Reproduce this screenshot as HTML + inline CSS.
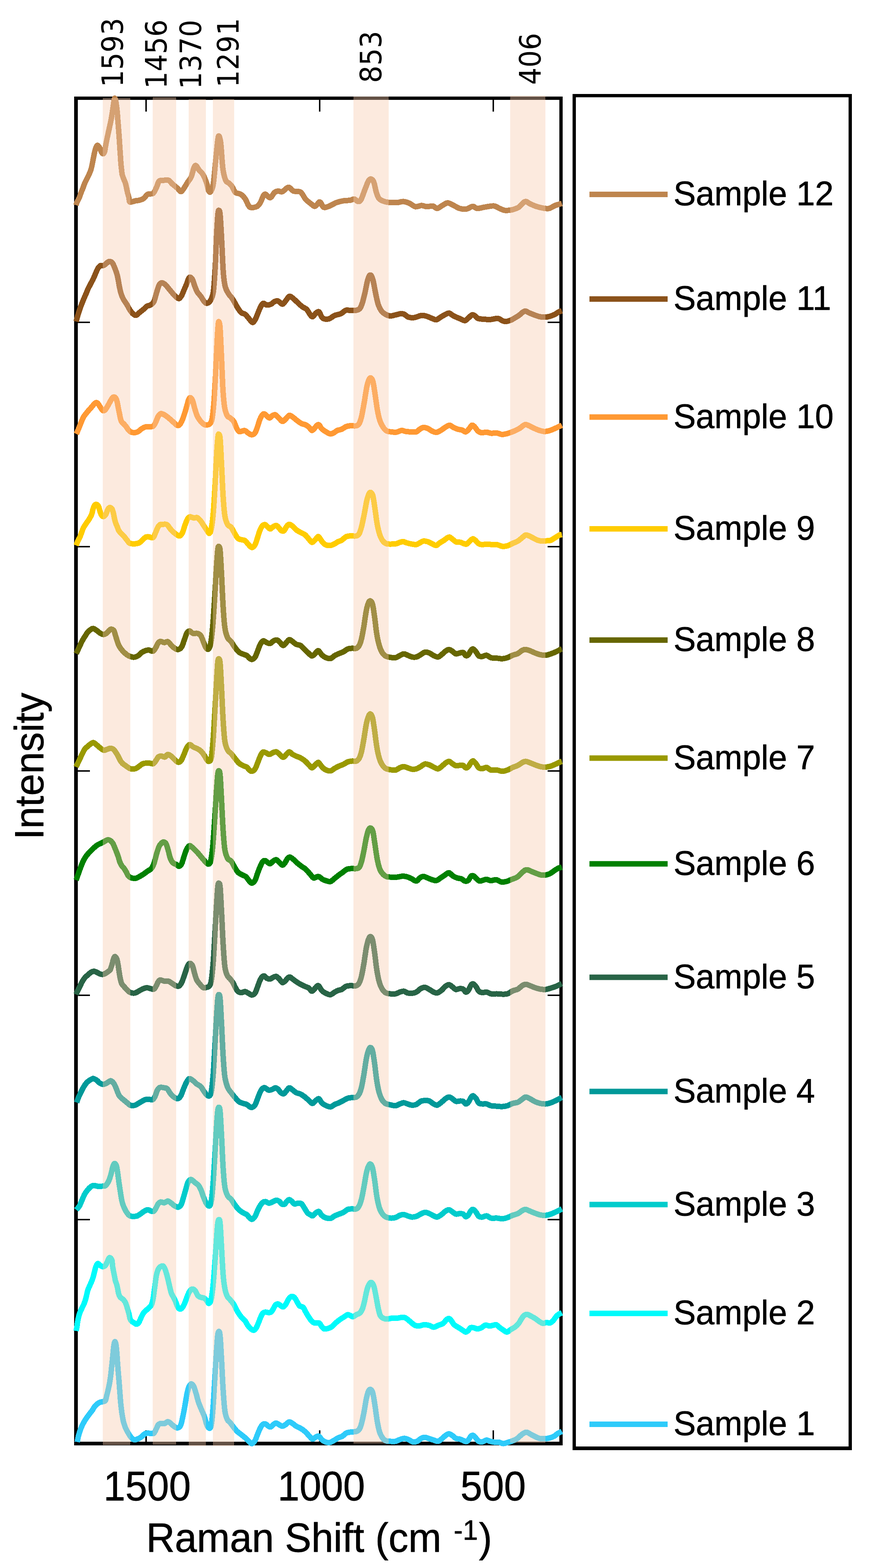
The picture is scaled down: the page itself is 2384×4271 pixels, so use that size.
<!DOCTYPE html>
<html lang="en"><head><meta charset="utf-8"><title>Raman spectra of samples 1-12</title>
<style>html,body{margin:0;padding:0;background:#fff;width:2384px;height:4271px;overflow:hidden;}svg{display:block;}text{font-family:"Liberation Sans",Arial,sans-serif;fill:#000;stroke:#000;stroke-width:0.9px;stroke-linejoin:round;}.pk{font-family:"DejaVu Sans","Liberation Sans",sans-serif;stroke:none;}</style></head><body>
<svg width="2384" height="4271" viewBox="0 0 2384 4271">
<rect width="2384" height="4271" fill="#fff"/>
<path fill="#000" fill-rule="evenodd" d="M202 263H1533V3937H202ZM212 272V3927H1524V272Z"/>
<path fill="#000" d="M396 271h4v33h-4zM396 3928h4v-32h-4zM869 271h4v33h-4zM869 3928h4v-32h-4zM1342 271h4v33h-4zM1342 3928h4v-32h-4zM211 876h34v4h-34zM1525 876h-33v4h33zM211 1487h34v4h-34zM1525 1487h-33v4h33zM211 2098h34v4h-34zM1525 2098h-33v4h33zM211 2709h34v4h-34zM1525 2709h-33v4h33zM211 3320h34v4h-34zM1525 3320h-33v4h33z"/>
<g fill="none" stroke-width="15" stroke-linejoin="round" stroke-linecap="butt" shape-rendering="crispEdges">
<path stroke="#2ECBFA" d="M210.6 3927.9C211 3925.8 211.8 3919.6 212.8 3915.4C213.7 3911.2 215 3907 216.3 3902.9C217.6 3898.7 219 3894.5 220.7 3890.3C222.3 3886.2 224.1 3882 226.3 3877.8C228.5 3873.7 231.1 3869.5 233.8 3865.3C236.6 3861.1 239.7 3857 242.8 3852.8C245.9 3848.6 249.9 3843.8 252.3 3840.3C254.8 3836.7 255.5 3834.2 257.6 3831.5C259.7 3828.8 262.6 3826 265.1 3824C267.6 3822 270.1 3820.6 272.6 3819.6C275.1 3818.6 277.7 3818.7 280.1 3818C282.5 3817.3 285.3 3817.8 287 3815.2C288.7 3812.7 289.3 3806.9 290.4 3802.7C291.5 3798.6 292.6 3794.4 293.6 3790.2C294.6 3786 295.5 3781.9 296.4 3777.7C297.3 3773.5 298.2 3769.3 298.9 3765.2C299.6 3761 300.2 3756.8 300.8 3752.7C301.4 3748.5 301.9 3744.3 302.4 3740.1C302.9 3736 303.2 3731.8 303.7 3727.6C304.1 3723.4 304.5 3721.4 305.2 3715.1C305.8 3708.8 306.8 3698.4 307.7 3690.1C308.5 3681.7 309.2 3671 310.2 3665C311.1 3659.1 312.2 3654.4 313.3 3654.4C314.3 3654.4 315.5 3659.1 316.4 3665C317.3 3671 318 3681.7 318.7 3690.1C319.3 3698.4 319.8 3706.8 320.4 3715.1C321.1 3723.4 321.7 3731.8 322.4 3740.1C323.1 3748.5 323.9 3756.8 324.6 3765.2C325.2 3773.5 325.8 3781.9 326.4 3790.2C327.1 3798.6 327.7 3807.9 328.3 3815.2C328.9 3822.5 329.5 3827.8 330.2 3834C330.9 3840.3 331.7 3846.5 332.7 3852.8C333.7 3859.1 334.8 3865.9 336.2 3871.6C337.6 3877.2 339.2 3882.2 340.8 3886.6C342.5 3891 344.1 3893.9 346.2 3897.9C348.4 3901.8 351.4 3906.9 353.7 3910.4C356.1 3913.8 358 3916.6 360.2 3918.5C362.5 3920.4 364.4 3921.8 367.1 3921.9C369.9 3921.9 373.6 3920.3 376.8 3918.8C380 3917.4 383.3 3915.4 386.2 3913.2C389.2 3911 391.5 3907.2 394.3 3905.6C397 3904 399.8 3903.9 402.8 3903.7C405.8 3903.6 409.5 3904.7 412.3 3904.7C415 3904.7 417.1 3905.7 419.3 3903.7C421.6 3901.7 423.5 3896.6 425.5 3892.8C427.5 3889.1 429 3883.6 431.2 3881C433.3 3878.4 435.5 3877.8 438.3 3877.2C441 3876.7 444.6 3878.5 447.7 3877.7C450.9 3876.9 454.3 3872.6 457.2 3872.5C460.1 3872.4 462.5 3875.2 465.2 3877.2C468 3879.3 470.7 3882.7 473.7 3884.8C476.7 3886.8 480.2 3889.8 483.2 3889.5C486.2 3889.3 489.3 3888 491.7 3883.4C494.1 3878.8 495.5 3870.4 497.4 3862.1C499.3 3853.8 501.2 3844 503 3833.7C504.9 3823.5 506.9 3809.7 508.7 3800.6C510.5 3791.6 512.3 3784.2 513.9 3779.3C515.6 3774.5 517.2 3772.9 518.7 3771.3C520.1 3769.7 520.9 3768.9 522.4 3769.9C524 3770.8 526.1 3772.6 528.1 3777C530.1 3781.3 532.1 3788.8 534.3 3795.9C536.4 3803 538.5 3812.4 540.9 3819.5C543.2 3826.6 545.8 3832.2 548.4 3838.5C551 3844.8 554 3850.3 556.5 3857.4C559 3864.5 561.2 3875.5 563.6 3881C565.9 3886.5 568.7 3890.5 570.7 3890.5C572.7 3890.5 574 3889.7 575.6 3881C577.2 3872.3 578.6 3858.2 580.1 3838.5C581.7 3818.8 583.4 3786.4 584.8 3762.8C586.3 3739.2 587.4 3717.1 588.8 3696.6C590.1 3676.1 591.6 3651.5 592.9 3639.8C594.2 3628.2 595.5 3626.2 596.7 3626.6C597.9 3627 598.8 3629 600 3642.2C601.2 3655.5 602.4 3682 603.8 3706.1C605.1 3730.1 606.5 3763.6 608 3786.4C609.5 3809.3 610.8 3829.8 612.7 3843.2C614.6 3856.6 616.9 3861.5 619.4 3866.8C621.8 3872.2 624.5 3871.8 627.4 3875.3C630.3 3878.9 633.7 3884.2 636.9 3888.1C640 3892 642.8 3895.6 646.3 3899C649.9 3902.4 654.2 3905.3 658.2 3908.4C662.1 3911.6 666.4 3914.7 670 3917.9C673.5 3921.1 676.7 3925 679.4 3927.4C682.2 3929.7 683.9 3932.7 686.5 3932.1C689.1 3931.5 692.5 3927.8 695 3923.6C697.6 3919.4 699.3 3912.7 701.7 3907C704 3901.3 706.9 3894 709.2 3889.5C711.6 3885 713.5 3881.9 715.8 3880.1C718.2 3878.3 720.8 3877.9 723.4 3878.7C726 3879.4 729.1 3883.5 731.4 3884.8C733.8 3886.1 735.2 3887.6 737.6 3886.7C740 3885.8 743.1 3881.3 745.6 3879.6C748.2 3877.9 750.1 3876.1 752.7 3876.3C755.3 3876.5 758.5 3879.6 761.2 3881C764 3882.4 766.4 3885 769.3 3884.8C772.2 3884.6 775.6 3882 778.7 3880.1C781.9 3878.1 785 3873.4 788.2 3873C791.3 3872.6 794.5 3875.7 797.6 3877.7C800.8 3879.7 803.6 3882.7 807.1 3884.8C810.7 3886.9 815 3888.1 818.9 3890.5C822.9 3892.8 827 3895.7 830.8 3899C834.5 3902.3 838.2 3906.9 841.6 3910.3C845 3913.8 848.2 3919 851.1 3919.8C854 3920.6 856.2 3916.4 859.1 3915.1C862 3913.7 865.6 3910.7 868.5 3911.8C871.4 3912.8 873.6 3918.6 876.6 3921.2C879.5 3923.8 882.5 3926 886 3927.4C889.6 3928.7 893.9 3929.9 897.8 3929.2C901.8 3928.6 905.7 3925.7 909.7 3923.6C913.6 3921.4 917.5 3918.5 921.5 3916.5C925.4 3914.5 929.7 3913.9 933.3 3911.8C936.8 3909.6 939.2 3905.5 942.8 3903.7C946.3 3901.9 949.8 3901.7 954.6 3900.9C959.3 3900.1 967 3900.3 971.1 3899C975.2 3897.6 976.8 3896.6 979.2 3892.8C981.5 3889.1 983.3 3883.8 985.3 3876.3C987.4 3868.8 989.3 3858.9 991.5 3847.9C993.6 3836.9 996 3819.9 998.1 3810.1C1000.2 3800.2 1002.2 3793 1004.2 3788.8C1006.3 3784.6 1008.4 3783.8 1010.4 3785C1012.3 3786.2 1014.2 3788.6 1016.1 3795.9C1017.9 3803.2 1019.8 3816.4 1021.7 3829C1023.7 3841.6 1025.8 3859.7 1027.9 3871.6C1029.9 3883.4 1031.7 3892.4 1034 3899.9C1036.4 3907.4 1039.1 3912.4 1042.1 3916.5C1045 3920.6 1048 3922.9 1051.5 3924.5C1055.1 3926.1 1059 3925.7 1063.3 3925.9C1067.7 3926.2 1073.2 3926.7 1077.5 3925.9C1081.9 3925.2 1085.4 3922.5 1089.3 3921.2C1093.3 3919.9 1097.2 3917.9 1101.2 3917.9C1105.1 3917.9 1109 3919.6 1113 3921.2C1116.9 3922.8 1120.9 3926.6 1124.8 3927.4C1128.8 3928.1 1133.1 3927.4 1136.6 3925.9C1140.2 3924.5 1142.7 3920.7 1146.1 3918.8C1149.5 3917 1153 3915.1 1157 3915.1C1160.9 3915.1 1165.6 3917.6 1169.7 3918.8C1173.8 3920.1 1177.6 3921.4 1181.6 3922.6C1185.5 3923.8 1189.8 3926.4 1193.4 3925.9C1196.9 3925.5 1199.4 3922.4 1202.8 3919.8C1206.2 3917.2 1210.3 3912.7 1213.7 3910.3C1217.1 3908 1220 3905.6 1223.2 3905.6C1226.3 3905.6 1229.5 3908.3 1232.6 3910.3C1235.8 3912.4 1238.8 3916.3 1242.1 3917.9C1245.4 3919.5 1249.2 3918.8 1252.5 3919.8C1255.8 3920.7 1259 3922.4 1261.9 3923.6C1264.9 3924.8 1267.9 3927.3 1270.5 3926.9C1273 3926.5 1275 3923.7 1277.1 3921.2C1279.2 3918.7 1281 3913.6 1283.2 3911.8C1285.4 3909.9 1288 3909.3 1290.3 3910.3C1292.7 3911.4 1295 3915.3 1297.4 3917.9C1299.8 3920.5 1301.7 3924.4 1304.5 3925.9C1307.3 3927.5 1310.4 3927.9 1314 3927.4C1317.5 3926.8 1322.2 3922.9 1325.8 3922.6C1329.3 3922.4 1331.7 3925 1335.2 3925.9C1338.8 3926.9 1343.1 3927.9 1347.1 3928.3C1351 3928.7 1354.9 3927.7 1358.9 3928.3C1362.8 3928.9 1366.8 3931.9 1370.7 3932.1C1374.6 3932.2 1378.2 3930.5 1382.5 3929.2C1386.9 3928 1392.4 3926.3 1396.7 3924.5C1401.1 3922.8 1404.6 3921.5 1408.5 3918.8C1412.5 3916.2 1416.8 3911.2 1420.4 3908.4C1423.9 3905.7 1427.2 3903.5 1429.8 3902.3C1432.4 3901.1 1433.2 3900.6 1436 3901.3C1438.7 3902.1 1442.7 3905.1 1446.4 3907C1450.1 3909 1454.3 3911.4 1458.2 3913.2C1462.1 3915 1465.7 3917 1470 3917.9C1474.3 3918.8 1479.5 3919.1 1484.2 3918.8C1488.9 3918.6 1494.1 3917.7 1498.4 3916.5C1502.7 3915.3 1506.7 3913.7 1510.2 3911.8C1513.8 3909.8 1516.2 3906.8 1519.7 3904.7C1523.1 3902.5 1529.1 3899.9 1531 3899"/>
<path stroke="#00FAFA" d="M207.5 3625.3C207.9 3623.2 209.1 3617 209.8 3612.8C210.4 3608.6 210.8 3604.5 211.5 3600.3C212.2 3596.1 213 3591.9 214 3587.8C215.1 3583.6 216.2 3579.4 217.8 3575.2C219.4 3571.1 221.6 3566.9 223.5 3562.7C225.5 3558.6 227.8 3554.4 229.4 3550.2C231.1 3546 232.4 3541.9 233.6 3537.7C234.7 3533.5 235.5 3529.3 236.6 3525.2C237.6 3521 238.4 3516.8 239.8 3512.7C241.3 3508.5 243.5 3504.3 245.3 3500.1C247.1 3496 249.1 3491.8 250.7 3487.6C252.3 3483.4 253.6 3479.3 254.8 3475.1C256 3470.9 256.8 3466.8 257.8 3462.6C258.9 3458.4 260.2 3453.2 261.3 3450.1C262.4 3446.9 263.4 3445.2 264.5 3443.8C265.5 3442.5 266.1 3441.4 267.6 3441.9C269.1 3442.5 271.4 3445.6 273.2 3446.9C275.1 3448.3 277.1 3449.7 278.9 3450.1C280.6 3450.5 282.4 3450.1 283.9 3449.4C285.3 3448.8 286.2 3448.5 287.6 3446.3C289.1 3444.1 291.2 3439.4 292.6 3436.3C294.1 3433.2 295.3 3429.3 296.4 3427.5C297.4 3425.8 297.9 3425.6 298.9 3425.7C299.9 3425.8 301.6 3426.8 302.6 3428.2C303.7 3429.5 304.4 3430.1 305.2 3433.8C305.9 3437.4 306.3 3445.1 307 3450.1C307.8 3455.1 308.7 3459.5 309.5 3463.8C310.4 3468.2 311.2 3472.2 312 3476.4C312.9 3480.5 313.5 3484.9 314.5 3488.9C315.6 3492.8 317.3 3496.4 318.3 3500.1C319.3 3503.9 320 3507.4 320.8 3511.4C321.6 3515.4 322.3 3520.4 323.3 3523.9C324.3 3527.5 325.3 3530.3 327.1 3532.7C328.8 3535.1 331.8 3536.2 333.9 3538.3C336.1 3540.4 338.5 3542.6 340.2 3545.2C341.9 3547.8 342.7 3550.5 344 3554C345.2 3557.4 346.5 3561.7 347.7 3565.9C349 3570 350.3 3574.5 351.5 3579C352.6 3583.5 353.3 3589.4 354.6 3592.8C355.8 3596.1 357 3597.1 359 3599C361 3600.9 364.3 3602.7 366.5 3604C368.7 3605.4 370.1 3607.3 372.1 3607C374 3606.7 376.1 3605.4 378.2 3602.3C380.3 3599.1 382.7 3592.4 384.8 3588.1C387 3583.8 388.8 3579.4 391 3576.3C393.2 3573.1 395.7 3571.4 398.1 3569.2C400.4 3567 402.8 3565.4 405.2 3563C407.5 3560.7 410.3 3559.1 412.3 3555C414.2 3550.9 415.4 3546.7 417 3538.5C418.6 3530.2 420.1 3516.4 421.7 3505.4C423.3 3494.3 424.7 3480.5 426.4 3472.3C428.2 3464 430.1 3459.5 432.1 3455.7C434.1 3451.9 436.2 3450.7 438.3 3449.6C440.3 3448.4 442.4 3447.2 444.4 3448.6C446.4 3450 448.2 3453.3 450.1 3458.1C452 3462.8 453.8 3469.5 455.8 3477C457.7 3484.5 460.1 3495.5 461.9 3503C463.7 3510.5 464.8 3516.8 466.6 3521.9C468.4 3527 470.8 3529.8 472.8 3533.7C474.8 3537.7 476.6 3541.2 478.5 3545.5C480.3 3549.9 482.2 3556.3 484.1 3559.7C486.1 3563.1 488.2 3565.5 490.3 3565.9C492.3 3566.3 494.3 3564.7 496.4 3562.1C498.6 3559.5 500.9 3555 503 3550.3C505.2 3545.5 507.1 3538.9 509.2 3533.7C511.2 3528.6 513.4 3523.1 515.3 3519.5C517.3 3516 519.1 3513.8 521 3512.4C522.9 3511.1 524.7 3510.7 526.7 3511.5C528.7 3512.3 530.8 3514.3 532.8 3517.2C534.9 3520.1 536.6 3526.2 539 3529C541.3 3531.8 544.1 3532.5 547 3533.7C549.9 3534.9 553.7 3534.5 556.5 3536.1C559.2 3537.7 561.4 3540.8 563.6 3543.2C565.7 3545.5 567.3 3550.7 569.2 3550.3C571.2 3549.9 573.2 3548.3 575 3540.8C576.8 3533.3 578.5 3520.7 580.1 3505.4C581.8 3490 583.4 3467.5 584.8 3448.6C586.3 3429.7 587.4 3410.8 588.8 3391.9C590.1 3372.9 591.6 3346.8 592.9 3335.1C594.2 3323.5 595.5 3321.9 596.7 3321.9C597.9 3321.9 598.8 3321.9 600 3335.1C601.2 3348.4 602.4 3378.5 603.8 3401.3C605.1 3424.2 606.5 3454.1 608 3472.3C609.5 3490.4 610.8 3500.2 612.7 3510.1C614.6 3519.9 616.9 3526.2 619.4 3531.4C621.8 3536.5 624.5 3537.3 627.4 3540.8C630.3 3544.4 634.1 3548.3 636.9 3552.6C639.6 3557 641.6 3562.5 644 3566.8C646.3 3571.2 648.7 3575.1 651.1 3578.7C653.4 3582.2 655.4 3585 658.2 3588.1C660.9 3591.3 664.8 3594 667.6 3597.6C670.4 3601.1 672.2 3605.8 674.7 3609.4C677.2 3612.9 680 3616.5 682.7 3618.8C685.5 3621.2 688.7 3624 691.3 3623.6C693.9 3623.2 696.1 3620 698.3 3616.5C700.6 3612.9 702.5 3607 704.5 3602.3C706.5 3597.6 708.3 3592.3 710.2 3588.1C712.1 3583.9 713.6 3579.6 715.8 3577.2C718 3574.9 720.8 3574.2 723.4 3573.9C726 3573.6 728.9 3575.3 731.4 3575.3C734 3575.3 736.4 3575.5 738.5 3573.9C740.7 3572.3 742.2 3569 744.2 3565.9C746.2 3562.7 748.2 3557.4 750.4 3555C752.6 3552.6 755.1 3551.5 757.5 3551.7C759.8 3551.9 762.2 3555.1 764.5 3556.4C766.9 3557.8 769.3 3560.4 771.6 3559.7C774 3559.1 776.5 3555.8 778.7 3552.6C780.9 3549.5 782.8 3544.1 784.9 3540.8C787 3537.5 789.4 3534.4 791.5 3532.8C793.6 3531.2 795.4 3530.6 797.6 3531.4C799.9 3532.2 802.6 3534.8 804.7 3537.5C806.9 3540.3 808.4 3544.6 810.4 3547.9C812.4 3551.2 814 3555.2 816.6 3557.4C819.2 3559.6 823.3 3558.4 826 3561.2C828.8 3563.9 830.5 3569.4 833.1 3573.9C835.7 3578.4 838.9 3583.9 841.6 3588.1C844.4 3592.3 847 3596.4 849.7 3599C852.3 3601.6 854.4 3602.9 857.7 3603.7C861 3604.5 866.3 3602.1 869.5 3603.7C872.6 3605.3 874.2 3610.5 876.6 3613.2C878.9 3615.9 880.5 3619 883.6 3619.8C886.8 3620.6 891.9 3619 895.5 3617.9C899 3616.8 901.8 3615.5 904.9 3613.2C908.1 3610.8 910.8 3606.9 914.4 3603.7C917.9 3600.6 922.3 3597.1 926.2 3594.3C930.1 3591.4 934.5 3588.9 938 3586.7C941.6 3584.5 944.7 3581.6 947.5 3581C950.2 3580.5 952.2 3582.4 954.6 3583.4C956.9 3584.3 958.9 3587.1 961.7 3586.7C964.4 3586.3 968 3582.7 971.1 3581C974.3 3579.3 977.8 3579 980.6 3576.3C983.3 3573.5 985.5 3570 987.7 3564.5C989.8 3558.9 991.4 3551.5 993.4 3543.2C995.3 3534.9 997.5 3522.3 999.5 3514.8C1001.5 3507.3 1003.5 3501.8 1005.6 3498.3C1007.8 3494.7 1010.1 3492.7 1012.3 3493.5C1014.4 3494.3 1016.4 3497.1 1018.4 3503C1020.4 3508.9 1022.3 3519.9 1024.1 3529C1025.9 3538.1 1027.5 3548.7 1029.3 3557.4C1031.1 3566 1032.8 3575.7 1035 3581C1037.1 3586.4 1038.9 3587.6 1042.1 3589.5C1045.2 3591.5 1049.5 3592.7 1053.9 3592.8C1058.2 3593 1063.3 3590.9 1068.1 3590.5C1072.8 3590.1 1077.5 3590.9 1082.3 3590.5C1087 3590.1 1092.5 3588.1 1096.4 3588.1C1100.4 3588.1 1102.4 3588.5 1105.9 3590.5C1109.4 3592.4 1113.8 3596.8 1117.7 3599.9C1121.7 3603.1 1125.6 3607.4 1129.5 3609.4C1133.5 3611.4 1137 3611.9 1141.4 3611.8C1145.7 3611.6 1150.8 3608.7 1155.5 3608.4C1160.3 3608.2 1165.4 3609.2 1169.7 3610.3C1174.1 3611.4 1177.6 3615.1 1181.6 3615.1C1185.5 3615.1 1189 3612.1 1193.4 3610.3C1197.7 3608.6 1203.9 3607.2 1207.6 3604.7C1211.3 3602.1 1213 3597.4 1215.6 3595.2C1218.2 3593 1220.8 3591 1223.2 3591.4C1225.5 3591.8 1227.4 3594.7 1229.8 3597.6C1232.2 3600.4 1234.4 3605.5 1237.4 3608.4C1240.4 3611.4 1244.1 3612.7 1247.8 3615.1C1251.5 3617.4 1256 3620.4 1259.6 3622.6C1263.1 3624.8 1266.3 3628.1 1269 3628.3C1271.8 3628.5 1274 3625.5 1276.1 3623.6C1278.3 3621.6 1279.4 3617.7 1281.8 3616.5C1284.2 3615.3 1287.2 3615.9 1290.3 3616.5C1293.5 3617 1297.2 3619.8 1300.7 3619.8C1304.3 3619.8 1308 3618.2 1311.6 3616.5C1315.2 3614.7 1318.9 3610.2 1322.5 3609.4C1326 3608.6 1329.6 3611.6 1332.9 3611.8C1336.2 3611.9 1339.2 3610.9 1342.3 3610.3C1345.5 3609.8 1348.8 3607.7 1351.8 3608.4C1354.8 3609.2 1357.2 3612.7 1360.3 3615.1C1363.5 3617.4 1367.2 3620.4 1370.7 3622.6C1374.2 3624.8 1377.6 3628.5 1381.1 3628.3C1384.7 3628.1 1388.2 3623.6 1392 3621.2C1395.8 3618.8 1400.3 3616.9 1403.8 3614.1C1407.4 3611.4 1410.5 3608.2 1413.3 3604.7C1416 3601.1 1418 3596.4 1420.4 3592.8C1422.7 3589.3 1424.9 3585.5 1427.5 3583.4C1430.1 3581.3 1432.8 3579.8 1436 3580.1C1439.1 3580.3 1442.7 3582.9 1446.4 3584.8C1450.1 3586.7 1454.3 3588.9 1458.2 3591.4C1462.1 3593.9 1466.5 3597.7 1470 3599.9C1473.6 3602.1 1476.3 3604.3 1479.5 3604.7C1482.6 3605.1 1485.8 3602.5 1488.9 3602.3C1492.1 3602.1 1495.4 3604.5 1498.4 3603.7C1501.4 3602.9 1504.1 3600.4 1506.9 3597.6C1509.7 3594.7 1512.4 3589.6 1514.9 3586.7C1517.5 3583.8 1519.4 3581.8 1522 3580.1C1524.7 3578.3 1529.5 3576.7 1531 3576.1"/>
<path stroke="#00CCCC" d="M207.8 3295.5C209.2 3293.7 213.9 3289 216.3 3285.2C218.6 3281.4 220.1 3276.7 221.9 3272.7C223.7 3268.6 225.3 3264.4 226.9 3260.8C228.6 3257.1 230 3253.9 231.9 3250.8C233.8 3247.6 236.1 3244.6 238.2 3242C240.3 3239.4 242.3 3237.1 244.4 3235.1C246.6 3233.1 249.1 3231.1 251.3 3230.1C253.5 3229.1 255.3 3228.9 257.6 3229.1C259.9 3229.3 262.6 3230.7 265.1 3231.1C267.6 3231.5 269.9 3231.4 272.6 3231.4C275.3 3231.3 279.1 3230.9 281.4 3230.7C283.7 3230.5 284.7 3231.1 286.4 3230.1C288 3229.2 289.6 3227.6 291.4 3225.1C293.2 3222.6 295.5 3218.6 297 3215.1C298.6 3211.5 299.6 3207.6 300.8 3203.8C301.9 3200.1 303 3196.3 303.9 3192.6C304.8 3188.8 305.5 3184.6 306.4 3181.3C307.3 3178 308.5 3174.5 309.5 3172.5C310.6 3170.5 311.4 3169 312.7 3169.4C313.9 3169.8 315.9 3172 317 3175C318.2 3178.1 318.8 3183 319.5 3187.6C320.3 3192.1 320.9 3197.3 321.7 3202.6C322.4 3207.9 323.1 3213.8 323.9 3219.5C324.7 3225.1 325.6 3230.8 326.4 3236.4C327.3 3241.9 328.1 3247.4 328.9 3252.6C329.8 3257.9 330.5 3263.1 331.4 3267.7C332.4 3272.3 333.3 3276.3 334.6 3280.2C335.8 3284 337.3 3287.3 338.9 3290.8C340.6 3294.4 342.6 3298.3 344.6 3301.5C346.6 3304.6 348.9 3307.7 350.8 3309.6C352.8 3311.5 354.3 3312.1 356.5 3312.7C358.7 3313.4 361.7 3313.4 364 3313.4C366.3 3313.4 368.5 3313 370.2 3312.7C372 3312.5 372.1 3312.9 374.4 3311.8C376.7 3310.6 380.7 3307.7 383.9 3305.6C387 3303.5 390.2 3300.7 393.3 3299C396.5 3297.3 399.6 3295.2 402.8 3295.2C405.9 3295.2 409.5 3298.4 412.3 3299C415 3299.6 417.1 3300.6 419.3 3299C421.6 3297.4 423.5 3292.9 425.5 3289.5C427.5 3286.1 429 3281.3 431.2 3278.7C433.3 3276.1 435.5 3274.3 438.3 3273.9C441 3273.5 444.6 3276.7 447.7 3276.3C450.9 3275.9 454 3271.4 457.2 3271.6C460.3 3271.7 463.5 3275 466.6 3277.2C469.8 3279.4 472.9 3283 476.1 3284.8C479.2 3286.6 482.6 3288.7 485.5 3288.1C488.5 3287.5 491.2 3285.4 493.6 3281C496 3276.7 497.7 3268.8 499.7 3262.1C501.8 3255.4 503.9 3247.5 505.9 3240.8C507.9 3234.1 509.7 3226.4 511.6 3221.9C513.4 3217.4 515.5 3215.3 517.2 3213.9C519 3212.4 519.8 3212.3 522 3213.4C524.2 3214.5 527.3 3217.9 530.5 3220.5C533.6 3223.1 537.9 3225.2 540.9 3229C543.9 3232.8 546.1 3237.7 548.4 3243.2C550.8 3248.7 552.7 3256.2 555.1 3262.1C557.4 3268 560 3274.9 562.6 3278.7C565.2 3282.4 568.5 3286 570.7 3284.8C572.8 3283.6 574 3280.9 575.6 3271.6C577.2 3262.3 578.6 3247.9 580.1 3229C581.7 3210.1 583.4 3181.7 584.8 3158.1C586.3 3134.4 587.4 3108.8 588.8 3087.1C590.1 3065.5 591.6 3039.8 592.9 3028C594.2 3016.2 595.5 3015.8 596.7 3016.2C597.9 3016.6 598.8 3017 600 3030.4C601.2 3043.8 602.4 3071.4 603.8 3096.6C605.1 3121.8 606.5 3158.9 608 3181.7C609.5 3204.6 610.6 3221.1 612.7 3233.7C614.7 3246.3 617.5 3251.9 620.3 3257.4C623.2 3262.9 626.6 3262.9 629.8 3266.8C632.9 3270.8 635.7 3276.3 639.2 3281C642.8 3285.7 647.1 3291.4 651.1 3295.2C655 3299 659.3 3301.5 662.9 3303.7C666.4 3305.9 669.6 3306.3 672.3 3308.4C675.1 3310.6 677.1 3314.4 679.4 3316.5C681.8 3318.6 683.9 3321.8 686.5 3321.2C689.1 3320.7 692.5 3317.1 695 3313.2C697.6 3309.2 699.3 3302.5 701.7 3297.6C704 3292.6 706.9 3287.1 709.2 3283.4C711.6 3279.7 713.5 3277.1 715.8 3275.3C718.2 3273.6 720.6 3272.7 723.4 3273C726.2 3273.3 729.7 3277.1 732.9 3277.2C736 3277.4 739 3275.3 742.3 3273.9C745.6 3272.6 749.6 3269.4 752.7 3269.2C755.9 3269 758.7 3270.8 761.2 3272.5C763.8 3274.2 765.5 3278.3 767.9 3279.6C770.2 3280.9 773.1 3281.4 775.4 3280.1C777.8 3278.7 779.9 3273.6 782 3271.6C784.2 3269.5 786 3267.6 788.2 3267.8C790.4 3267.9 792.9 3270.5 795.3 3272.5C797.6 3274.5 799.6 3278.8 802.4 3279.6C805.1 3280.4 808.7 3277.4 811.8 3277.2C815 3277.1 818.4 3276.4 821.3 3278.7C824.2 3280.9 826.6 3286.3 829.3 3290.5C832.1 3294.6 835.2 3300.7 837.8 3303.7C840.4 3306.7 842.6 3307.1 844.9 3308.4C847.3 3309.8 849.7 3312.4 852 3311.8C854.4 3311.1 856.4 3306.6 859.1 3304.7C861.9 3302.7 865.6 3299 868.5 3299.9C871.4 3300.9 873.6 3307.6 876.6 3310.3C879.5 3313.1 882.1 3315.1 886 3316.5C889.9 3317.9 895.9 3319.6 900.2 3318.8C904.5 3318.1 908.1 3313.7 912 3311.8C916 3309.8 919.9 3308.6 923.8 3307C927.8 3305.4 931.7 3304.4 935.7 3302.3C939.6 3300.2 943.5 3295.8 947.5 3294.3C951.4 3292.7 955.4 3293.1 959.3 3292.8C963.2 3292.6 967.8 3294.4 971.1 3292.8C974.4 3291.3 976.8 3288.1 979.2 3283.4C981.5 3278.7 983.3 3272.7 985.3 3264.5C987.4 3256.2 989.3 3245.2 991.5 3233.7C993.6 3222.3 996 3205.5 998.1 3195.9C1000.2 3186.3 1002.3 3180.2 1004.2 3176C1006.1 3171.9 1007.6 3169.9 1009.4 3170.8C1011.2 3171.8 1013.2 3174.4 1015.1 3181.7C1017 3189 1018.9 3202.2 1020.8 3214.8C1022.7 3227.4 1024.4 3245.2 1026.5 3257.4C1028.5 3269.6 1030.7 3280.2 1033.1 3288.1C1035.4 3296 1037.8 3300.3 1040.6 3304.7C1043.5 3309 1046.3 3311.9 1050.1 3314.1C1053.9 3316.3 1058.8 3317.5 1063.3 3317.9C1067.9 3318.3 1073.2 3317.7 1077.5 3316.5C1081.9 3315.2 1085.6 3311.7 1089.3 3310.3C1093.1 3309 1096.7 3308.2 1100.2 3308.4C1103.8 3308.7 1106.9 3310.6 1110.6 3311.8C1114.3 3312.9 1118.5 3314.8 1122.4 3315.1C1126.4 3315.3 1130.3 3314.5 1134.3 3313.2C1138.2 3311.8 1142.2 3308.8 1146.1 3307C1150 3305.2 1154 3302.5 1157.9 3302.3C1161.9 3302.1 1165.8 3304 1169.7 3305.6C1173.7 3307.2 1178 3310.2 1181.6 3311.8C1185.1 3313.3 1187.5 3315.6 1191 3315.1C1194.6 3314.5 1199.1 3311.1 1202.8 3308.4C1206.6 3305.8 1210.3 3301.2 1213.7 3299C1217.1 3296.8 1220 3294.9 1223.2 3295.2C1226.3 3295.5 1229.5 3298.9 1232.6 3300.9C1235.8 3302.8 1238.8 3306.2 1242.1 3307C1245.4 3307.8 1249.2 3305.6 1252.5 3305.6C1255.8 3305.6 1259.2 3305.6 1261.9 3307C1264.7 3308.4 1266.7 3313.7 1269 3314.1C1271.4 3314.5 1273.8 3312.1 1276.1 3309.4C1278.5 3306.6 1281 3300.1 1283.2 3297.6C1285.4 3295 1287 3293.5 1289.4 3294.3C1291.7 3295 1294.9 3299.1 1297.4 3302.3C1299.9 3305.4 1301.7 3311 1304.5 3313.2C1307.3 3315.3 1310.4 3315.3 1314 3315.1C1317.5 3314.8 1321.8 3311.3 1325.8 3311.8C1329.7 3312.2 1332.9 3316.9 1337.6 3317.9C1342.3 3318.9 1349 3317.6 1354.2 3317.9C1359.3 3318.2 1363.6 3320 1368.3 3319.8C1373.1 3319.6 1377.8 3318.1 1382.5 3316.5C1387.3 3314.9 1392 3312.1 1396.7 3310.3C1401.4 3308.5 1406.6 3307.7 1410.9 3305.6C1415.2 3303.5 1419.2 3299.5 1422.7 3297.6C1426.3 3295.7 1428.6 3294 1432.2 3294.3C1435.7 3294.5 1439.7 3297.3 1444 3299C1448.3 3300.7 1453.5 3302.9 1458.2 3304.7C1462.9 3306.4 1467.6 3308.4 1472.4 3309.4C1477.1 3310.3 1481.8 3310.7 1486.6 3310.3C1491.3 3309.9 1496 3308.6 1500.8 3307C1505.5 3305.4 1510.6 3302.8 1514.9 3300.9C1519.3 3298.9 1524.1 3296.5 1526.8 3295.2C1529.4 3293.9 1530.3 3293.4 1531 3293.1"/>
<path stroke="#009999" d="M209 3003.3C209.7 3001.3 211.3 2995.4 212.9 2991.4C214.5 2987.3 216.8 2983 218.8 2978.8C220.8 2974.7 222.5 2970.5 224.8 2966.3C227 2962.2 230 2957.1 232.3 2953.8C234.6 2950.5 236.7 2948.6 238.8 2946.6C240.9 2944.5 243 2943.1 245.1 2941.8C247.2 2940.5 249.8 2939.5 251.3 2938.8C252.9 2938.1 252.4 2937.2 254.5 2937.8C256.5 2938.4 261 2940.5 263.8 2942.5C266.7 2944.5 268.6 2948 271.4 2949.8C274.1 2951.6 277.4 2953.2 280.1 2953.6C282.8 2953.9 285.3 2952.8 287.6 2951.9C289.9 2951 291.6 2949.5 293.9 2948.2C296.2 2946.8 299 2943.7 301.4 2943.8C303.8 2943.9 306.3 2946.6 308.3 2948.8C310.3 2951 311.8 2954.1 313.3 2956.9C314.7 2959.8 315.8 2962.6 317 2965.7C318.3 2968.8 319.4 2972.5 320.8 2975.7C322.2 2978.9 323.4 2982.5 325.2 2985.1C327 2987.7 329.1 2989.3 331.4 2991.4C333.7 2993.4 336.4 2995.5 338.9 2997.6C341.5 2999.7 344 3001.8 346.5 3003.9C349 3006 351.5 3008.9 354 3010.1C356.5 3011.4 359 3011.4 361.5 3011.4C364 3011.4 366.8 3010.9 369 3010.1C371.1 3009.4 371.8 3008.6 374.4 3007C377.1 3005.5 381.3 3002.8 384.8 3000.9C388.4 2998.9 392.3 2996.3 395.7 2995.2C399.1 2994.1 401.8 2994.3 405.2 2994.3C408.5 2994.3 413.1 2996.6 416 2995.2C419 2993.8 420.5 2990.1 422.7 2985.7C424.8 2981.4 426.6 2973.1 428.8 2969.2C431 2965.3 432.7 2963.1 435.9 2962.1C439 2961.1 444.4 2962.4 447.7 2963C451 2963.7 453 2963.3 455.8 2965.9C458.5 2968.5 461.3 2974.9 464.3 2978.7C467.3 2982.4 470.4 2985.7 473.7 2988.1C477 2990.5 481 2993.4 484.1 2992.8C487.3 2992.3 490 2989.1 492.6 2984.8C495.2 2980.5 497.4 2972.6 499.7 2966.8C502.1 2961.1 504.5 2954.8 506.8 2950.3C509.2 2945.7 512 2941.4 513.9 2939.4C515.9 2937.4 516.5 2937.7 518.7 2938.5C520.8 2939.2 523.8 2941.8 526.7 2944.1C529.6 2946.5 532.8 2950 536.1 2952.6C539.5 2955.2 543.6 2956.2 547 2959.7C550.4 2963.3 553.6 2970 556.5 2973.9C559.4 2977.9 562.2 2981.6 564.5 2983.4C566.9 2985.2 568.8 2986.4 570.7 2984.8C572.5 2983.2 573.9 2983.2 575.6 2973.9C577.2 2964.6 579 2949.1 580.7 2929C582.3 2908.9 583.9 2877.8 585.3 2853.3C586.7 2828.9 587.8 2804.5 589.2 2782.4C590.5 2760.3 592.1 2733.1 593.3 2720.9C594.6 2708.7 595.6 2708.7 596.7 2709.1C597.8 2709.5 598.8 2709.5 600 2723.3C601.2 2737.1 602.4 2766.2 603.8 2791.9C605.1 2817.5 606.5 2853.3 608 2877C609.5 2900.6 610.6 2919.5 612.7 2933.7C614.7 2947.9 617.5 2955 620.3 2962.1C623.2 2969.2 626.6 2972 629.8 2976.3C632.9 2980.6 635.7 2984 639.2 2988.1C642.8 2992.2 647.1 2998 651.1 3000.9C655 3003.8 659.3 3004.3 662.9 3005.6C666.4 3006.9 669.6 3007 672.3 3008.4C675.1 3009.9 677.1 3012.8 679.4 3014.1C681.8 3015.5 683.9 3017.3 686.5 3016.5C689.1 3015.7 692.5 3013.3 695 3009.4C697.6 3005.4 699.3 2998.7 701.7 2992.8C704 2986.9 706.9 2978.7 709.2 2973.9C711.6 2969.2 713.7 2966.3 715.8 2964.5C718 2962.7 719.4 2962.3 722 2963C724.6 2963.8 728.3 2968.4 731.4 2969.2C734.6 2970 737.8 2968.8 740.9 2967.8C744.1 2966.8 747.6 2963.2 750.4 2963C753.1 2962.9 755.1 2964.8 757.5 2966.8C759.8 2968.9 762 2973.2 764.5 2975.3C767.1 2977.5 770 2980.2 772.6 2979.6C775.2 2979 777.6 2974.3 780.2 2971.6C782.8 2968.8 785.3 2963.4 788.2 2963C791.1 2962.7 794.5 2967 797.6 2969.2C800.8 2971.4 803.6 2974.5 807.1 2976.3C810.7 2978.1 815 2978.1 818.9 2980.1C822.9 2982 827 2985.2 830.8 2988.1C834.5 2991 838.2 2994.6 841.6 2997.6C845 3000.5 848.2 3005.4 851.1 3005.6C854 3005.8 856.2 3001.1 859.1 2999C862 2996.9 865.6 2992 868.5 2992.8C871.4 2993.6 873.6 3000.8 876.6 3003.7C879.5 3006.6 882.1 3008.4 886 3010.3C889.9 3012.2 895.9 3015.4 900.2 3015.1C904.5 3014.7 908.1 3010.3 912 3008.4C916 3006.6 919.9 3005.5 923.8 3003.7C927.8 3001.9 931.7 2999.6 935.7 2997.6C939.6 2995.5 943.5 2992.8 947.5 2991.4C951.4 2990.1 955.4 2990.1 959.3 2989.5C963.2 2989 967.8 2989.9 971.1 2988.1C974.4 2986.3 976.8 2983.4 979.2 2978.7C981.5 2973.9 983.3 2968.4 985.3 2959.7C987.4 2951.1 989.3 2939.2 991.5 2926.6C993.6 2914 996 2895.1 998.1 2884.1C1000.2 2873 1002.3 2865.6 1004.2 2860.4C1006.1 2855.3 1007.6 2852.9 1009.4 2853.3C1011.2 2853.7 1013.2 2855.3 1015.1 2862.8C1017 2870.3 1018.9 2884.9 1020.8 2898.3C1022.7 2911.7 1024.4 2930.2 1026.5 2943.2C1028.5 2956.2 1030.7 2967.6 1033.1 2976.3C1035.4 2985 1037.8 2990.3 1040.6 2995.2C1043.5 3000.1 1046.3 3003.2 1050.1 3005.6C1053.9 3008 1058.8 3008.4 1063.3 3009.4C1067.9 3010.4 1073.2 3012.1 1077.5 3011.8C1081.9 3011.4 1085.6 3008.4 1089.3 3007C1093.1 3005.7 1096.7 3003.7 1100.2 3003.7C1103.8 3003.7 1106.9 3005.9 1110.6 3007C1114.3 3008.1 1118.5 3010.1 1122.4 3010.3C1126.4 3010.6 1130.3 3010.2 1134.3 3008.4C1138.2 3006.7 1142.2 3001.7 1146.1 2999.9C1150 2998.1 1154 2997.7 1157.9 2997.6C1161.9 2997.4 1165.8 2997.4 1169.7 2999C1173.7 3000.6 1178 3005.1 1181.6 3007C1185.1 3008.9 1187.5 3011.1 1191 3010.3C1194.6 3009.5 1199.1 3005.2 1202.8 3002.3C1206.6 2999.4 1210.3 2995.2 1213.7 2992.8C1217.1 2990.5 1220 2988.1 1223.2 2988.1C1226.3 2988.1 1229.5 2990.9 1232.6 2992.8C1235.8 2994.8 1238.8 2998.9 1242.1 2999.9C1245.4 3001 1249.2 2999 1252.5 2999C1255.8 2999 1259.2 2998.6 1261.9 2999.9C1264.7 3001.3 1266.7 3006.6 1269 3007C1271.4 3007.4 1273.8 3005.2 1276.1 3002.3C1278.5 2999.4 1281 2992.4 1283.2 2989.5C1285.4 2986.6 1287 2984.2 1289.4 2984.8C1291.7 2985.4 1294.9 2989.5 1297.4 2992.8C1299.9 2996.1 1301.7 3002.3 1304.5 3004.7C1307.3 3007 1310.4 3006.6 1314 3007C1317.5 3007.4 1321.8 3006.2 1325.8 3007C1329.7 3007.8 1332.9 3010.7 1337.6 3011.8C1342.3 3012.8 1349 3012.8 1354.2 3013.2C1359.3 3013.6 1363.6 3014.4 1368.3 3014.1C1373.1 3013.9 1377.8 3013.2 1382.5 3011.8C1387.3 3010.3 1392 3007.2 1396.7 3005.6C1401.4 3004 1406.6 3004.2 1410.9 3002.3C1415.2 3000.4 1419.2 2996.6 1422.7 2994.3C1426.3 2991.9 1428.6 2988.3 1432.2 2988.1C1435.7 2987.9 1439.7 2990.7 1444 2992.8C1448.3 2995 1453.5 2998.7 1458.2 3000.9C1462.9 3003 1467.6 3004.6 1472.4 3005.6C1477.1 3006.6 1481.8 3007.3 1486.6 3007C1491.3 3006.7 1496 3005.3 1500.8 3003.7C1505.5 3002.1 1510.6 2999.6 1514.9 2997.6C1519.3 2995.5 1524.1 2992.7 1526.8 2991.4C1529.4 2990.1 1530.3 2990 1531 2989.7"/>
<path stroke="#286446" d="M207.3 2708.9C208 2707.3 209.8 2702.7 211.5 2698.9C213.3 2695.2 215.7 2690.6 217.8 2686.4C219.9 2682.2 221.6 2678.1 224 2673.9C226.5 2669.7 230.1 2664.3 232.6 2661.4C235 2658.4 236.3 2658.5 238.8 2656.4C241.3 2654.2 244.7 2650.4 247.6 2648.6C250.5 2646.8 253.4 2645.6 256.3 2645.7C259.3 2645.8 262.4 2647.9 265.1 2649.1C267.8 2650.3 270.1 2652.1 272.6 2653C275.1 2653.8 277.6 2654.4 280.1 2654.1C282.6 2653.8 285.1 2652.7 287.6 2651.3C290.1 2650 293.1 2647.7 295.1 2646.1C297.2 2644.5 298.8 2644.1 300.1 2642C301.5 2639.8 302.3 2636.2 303.3 2633.2C304.3 2630.2 305.3 2626.8 306.2 2623.8C307 2620.8 307.5 2617.7 308.3 2615C309.1 2612.4 309.8 2609.7 310.8 2608.2C311.7 2606.6 312.7 2604.9 313.9 2605.7C315.2 2606.4 317 2609.1 318.3 2612.5C319.5 2616 320.6 2621.9 321.4 2626.3C322.3 2630.7 322.6 2634.5 323.3 2638.8C324 2643.2 324.7 2648 325.4 2652.6C326.2 2657.2 326.9 2662 327.9 2666.4C328.9 2670.8 329.8 2675.4 331.4 2678.9C333.1 2682.3 335.5 2684.4 337.7 2687C339.9 2689.6 342.4 2692.2 344.6 2694.5C346.8 2696.8 348.9 2699.2 350.8 2700.8C352.8 2702.4 354.3 2703.2 356.5 2703.9C358.7 2704.7 361.7 2705.2 364 2705.2C366.3 2705.2 367.3 2705.2 370.2 2703.9C373.2 2702.7 378.1 2699.4 381.5 2697.6C385 2695.7 387.8 2694 391 2692.8C394.1 2691.7 397.3 2690.5 400.4 2690.5C403.6 2690.5 406.7 2692.2 409.9 2692.8C413 2693.5 416.7 2695.4 419.3 2694.3C421.9 2693.1 423.5 2689.1 425.5 2685.7C427.5 2682.4 429.3 2676.7 431.2 2673.9C433.1 2671.2 434.1 2669.4 436.8 2669.2C439.6 2669 444.1 2672 447.7 2672.5C451.3 2673.1 455 2671.5 458.6 2672.5C462.1 2673.5 465.7 2676.6 469 2678.7C472.3 2680.7 475.3 2683.6 478.5 2684.8C481.6 2686 485.2 2687.2 487.9 2685.7C490.7 2684.3 492.6 2681 495 2676.3C497.4 2671.6 499.7 2664.1 502.1 2657.4C504.5 2650.7 507.2 2641.2 509.2 2636.1C511.2 2631 512.3 2628.6 513.9 2626.6C515.5 2624.7 516.8 2623.5 518.7 2624.3C520.5 2625.1 522.8 2626.6 524.8 2631.4C526.8 2636.1 528.6 2646.3 530.5 2652.6C532.4 2658.9 533.8 2664.5 536.1 2669.2C538.5 2673.9 541.7 2677.5 544.7 2681C547.7 2684.6 551.1 2689.1 554.1 2690.5C557.1 2691.9 559.9 2690.3 562.6 2689.5C565.4 2688.7 568.5 2688.7 570.7 2685.7C572.8 2682.7 573.9 2681.8 575.6 2671.6C577.2 2661.3 579 2644.8 580.7 2624.3C582.3 2603.8 583.9 2573 585.3 2548.6C586.7 2524.2 587.8 2499.7 589.2 2477.7C590.5 2455.6 592.1 2428.2 593.3 2416.2C594.6 2404.2 595.6 2405.4 596.7 2405.8C597.8 2406.2 598.8 2405 600 2418.6C601.2 2432.1 602.4 2461.5 603.8 2487.1C605.1 2512.7 606.5 2547.8 608 2572.3C609.5 2596.7 610.8 2619.5 612.7 2633.7C614.6 2647.9 616.9 2651.9 619.4 2657.4C621.8 2662.9 624.9 2663.7 627.4 2666.8C629.9 2670 632.1 2672.3 634.5 2676.3C636.9 2680.2 639.2 2686.4 641.6 2690.5C644 2694.6 645.9 2698.7 648.7 2700.9C651.5 2703.1 655 2703.7 658.2 2703.7C661.3 2703.7 664.5 2700.6 667.6 2700.9C670.8 2701.2 673.9 2704 677.1 2705.6C680.2 2707.2 683.5 2710.5 686.5 2710.3C689.5 2710.2 692.5 2708.4 695 2704.7C697.6 2701 699.5 2693.6 701.7 2688.1C703.8 2682.6 705.8 2676.1 707.8 2671.6C709.9 2667.1 712 2663.4 713.9 2661.2C715.9 2658.9 717.5 2657.8 719.6 2658.3C721.8 2658.9 724 2663 726.7 2664.5C729.5 2665.9 733.3 2667.2 736.2 2666.8C739.1 2666.4 741.5 2663.3 744.2 2662.1C747 2660.9 749.9 2658.9 752.7 2659.7C755.6 2660.5 758.5 2664.1 761.2 2666.8C764 2669.6 766.8 2675.3 769.3 2676.3C771.8 2677.2 774 2674.5 776.4 2672.5C778.7 2670.5 781.3 2666.4 783.5 2664.5C785.7 2662.6 787.2 2660.8 789.6 2661.2C792 2661.5 794.7 2664.7 797.6 2666.8C800.6 2669 803.6 2671.6 807.1 2673.9C810.7 2676.3 815 2678.9 818.9 2681C822.9 2683.1 827 2685 830.8 2686.7C834.5 2688.4 838.5 2689.2 841.6 2691.4C844.8 2693.6 847 2699.7 849.7 2699.9C852.3 2700.2 855.3 2695.2 857.7 2692.8C860.1 2690.5 862.1 2686.9 863.9 2685.7C865.7 2684.6 866.4 2683.8 868.5 2685.7C870.6 2687.7 873.6 2694.4 876.6 2697.6C879.5 2700.7 882.1 2702.7 886 2704.7C889.9 2706.6 895.9 2709.8 900.2 2709.4C904.5 2709 908.5 2704.3 912 2702.3C915.6 2700.3 918.3 2698.7 921.5 2697.6C924.6 2696.4 927.4 2697 930.9 2695.2C934.5 2693.4 938.8 2688.4 942.8 2686.7C946.7 2685 949.8 2685.1 954.6 2684.8C959.3 2684.5 967 2686.2 971.1 2684.8C975.2 2683.4 976.8 2680.9 979.2 2676.3C981.5 2671.7 983.3 2666 985.3 2657.4C987.4 2648.7 989.3 2636.9 991.5 2624.3C993.6 2611.7 996 2592.7 998.1 2581.7C1000.2 2570.7 1002.3 2563.2 1004.2 2558.1C1006.1 2552.9 1007.6 2550.6 1009.4 2551C1011.2 2551.4 1013.2 2552.9 1015.1 2560.4C1017 2567.9 1018.9 2582.5 1020.8 2595.9C1022.7 2609.3 1024.4 2627.8 1026.5 2640.8C1028.5 2653.8 1030.7 2665.3 1033.1 2673.9C1035.4 2682.6 1037.8 2687.9 1040.6 2692.8C1043.5 2697.8 1046.3 2701.3 1050.1 2703.7C1053.9 2706.1 1058.8 2706.5 1063.3 2707C1067.9 2707.6 1073.2 2707.8 1077.5 2707C1081.9 2706.2 1085.6 2703.5 1089.3 2702.3C1093.1 2701.1 1096.7 2699.5 1100.2 2699.9C1103.8 2700.3 1106.9 2703.7 1110.6 2704.7C1114.3 2705.6 1118.5 2706 1122.4 2705.6C1126.4 2705.2 1130.3 2704.4 1134.3 2702.3C1138.2 2700.2 1142.2 2695 1146.1 2692.8C1150 2690.7 1154 2689.1 1157.9 2689.5C1161.9 2689.9 1165.8 2693.1 1169.7 2695.2C1173.7 2697.3 1178 2700.7 1181.6 2702.3C1185.1 2703.9 1187.5 2705.4 1191 2704.7C1194.6 2703.9 1199.1 2700.6 1202.8 2697.6C1206.6 2694.6 1210.3 2689.3 1213.7 2686.7C1217.1 2684.1 1220 2681.7 1223.2 2682C1226.3 2682.2 1229.5 2685.9 1232.6 2688.1C1235.8 2690.3 1238.8 2694.4 1242.1 2695.2C1245.4 2696 1249.2 2693 1252.5 2692.8C1255.8 2692.7 1259.2 2692.7 1261.9 2694.3C1264.7 2695.8 1266.7 2701.7 1269 2702.3C1271.4 2702.8 1273.8 2700.7 1276.1 2697.6C1278.5 2694.4 1281 2686.3 1283.2 2683.4C1285.4 2680.5 1287 2679.3 1289.4 2680.1C1291.7 2680.9 1294.9 2684.8 1297.4 2688.1C1299.9 2691.4 1301.7 2697.3 1304.5 2699.9C1307.3 2702.5 1310.4 2703.3 1314 2703.7C1317.5 2704.1 1321.8 2701.7 1325.8 2702.3C1329.7 2702.8 1332.9 2706.2 1337.6 2707C1342.3 2707.8 1349 2706.9 1354.2 2707C1359.3 2707.2 1363.6 2708 1368.3 2708C1373.1 2708 1377.8 2708.5 1382.5 2707C1387.3 2705.5 1392 2701.1 1396.7 2699C1401.4 2696.9 1406.6 2696.6 1410.9 2694.3C1415.2 2691.9 1419.2 2687 1422.7 2684.8C1426.3 2682.6 1428.6 2681 1432.2 2681C1435.7 2681 1439.7 2683.2 1444 2684.8C1448.3 2686.4 1453.5 2688.9 1458.2 2690.5C1462.9 2692 1467.6 2693.5 1472.4 2694.3C1477.1 2695 1481.8 2695.7 1486.6 2695.2C1491.3 2694.7 1496 2692.8 1500.8 2691.4C1505.5 2690 1510.6 2688.4 1514.9 2686.7C1519.3 2685 1524.1 2682.2 1526.8 2681C1529.4 2679.9 1530.3 2680 1531 2679.7"/>
<path stroke="#008000" d="M207.5 2397.3C208.4 2394.9 210.6 2388 212.5 2382.7C214.4 2377.3 216.5 2371.2 218.8 2365.1C221.1 2359.1 223.6 2352 226.3 2346.4C229 2340.7 231.9 2335.7 235.1 2331.3C238.2 2327 241.7 2323.6 245.1 2320.1C248.4 2316.5 251.7 2313.1 255.1 2310.1C258.4 2307 261.8 2304.1 265.1 2301.9C268.4 2299.7 272.2 2298.4 275.1 2296.9C278 2295.5 280.1 2294.5 282.6 2293.2C285.1 2291.8 288 2289.7 290.1 2288.8C292.2 2287.8 293.3 2287.3 295.1 2287.5C297 2287.7 299.3 2288.4 301.4 2290C303.5 2291.7 305.8 2294.4 307.7 2297.5C309.5 2300.7 311 2304.8 312.7 2308.8C314.3 2312.8 316 2316.9 317.7 2321.3C319.3 2325.7 321.2 2330.7 322.7 2335.1C324.1 2339.5 325 2343.9 326.4 2347.6C327.9 2351.4 329.6 2354.7 331.4 2357.6C333.3 2360.5 335.6 2362.2 337.7 2365.1C339.8 2368.1 342.1 2371.8 344 2375.1C345.8 2378.5 347.1 2382.7 349 2385.2C350.8 2387.7 353.1 2389 355.2 2390.2C357.3 2391.3 359.2 2391.6 361.5 2392C363.8 2392.5 366 2393.3 369 2392.7C371.9 2392 375.5 2390.1 379.2 2388.1C382.8 2386.2 387 2383.6 391 2381C394.9 2378.4 399.2 2375 402.8 2372.5C406.3 2370 409.5 2369.2 412.3 2365.9C415 2362.6 417 2359.2 419.3 2352.6C421.7 2346.1 424.1 2334.5 426.4 2326.6C428.8 2318.8 431.2 2310.5 433.5 2305.4C435.9 2300.2 438.5 2297.9 440.6 2295.9C442.8 2293.9 444.3 2293.1 446.3 2293.5C448.3 2293.9 450.4 2294.3 452.4 2298.3C454.5 2302.2 456.6 2310.5 458.6 2317.2C460.6 2323.9 462.1 2332.9 464.3 2338.5C466.4 2344 468.6 2347.5 471.4 2350.3C474.1 2353 478.1 2353.4 480.8 2355C483.6 2356.6 485.5 2360.1 487.9 2359.7C490.3 2359.3 492.8 2357 495 2352.6C497.2 2348.3 499 2340 501.2 2333.7C503.3 2327.4 505.6 2319.5 507.8 2314.8C509.9 2310.1 512.1 2307.2 513.9 2305.4C515.7 2303.5 516.3 2302.8 518.7 2303.9C521 2305.1 524.6 2309.1 528.1 2312.4C531.7 2315.8 536 2319.9 539.9 2324.3C543.9 2328.6 548.2 2334.4 551.8 2338.5C555.3 2342.6 558.5 2346.3 561.2 2348.9C564 2351.4 566.2 2354.1 568.3 2353.6C570.4 2353 572.1 2353.6 574 2345.5C575.9 2337.5 577.8 2323.9 579.6 2305.4C581.4 2286.8 583.2 2258.1 584.8 2234.4C586.4 2210.8 587.8 2184.4 589.2 2163.5C590.6 2142.6 592.1 2119.7 593.3 2109.1C594.6 2098.5 595.6 2098.9 596.7 2099.7C597.8 2100.4 598.8 2100 600 2113.8C601.2 2127.6 602.4 2157.6 603.8 2182.4C605.1 2207.2 606.5 2240.7 608 2262.8C609.5 2284.9 610.6 2302.2 612.7 2314.8C614.7 2327.4 617.5 2333.3 620.3 2338.5C623.2 2343.6 626.6 2341.6 629.8 2345.5C632.9 2349.5 636.1 2357 639.2 2362.1C642.4 2367.2 645.1 2372.7 648.7 2376.3C652.2 2379.8 657 2381.4 660.5 2383.4C664.1 2385.4 666.8 2385.4 670 2388.1C673.1 2390.9 676.7 2397 679.4 2399.9C682.2 2402.8 683.9 2406 686.5 2405.6C689.1 2405.2 692.5 2402.1 695 2397.6C697.6 2393.1 699.3 2385 701.7 2378.7C704 2372.3 706.9 2365 709.2 2359.7C711.6 2354.5 713.7 2349.6 715.8 2347C718 2344.4 719.8 2343.8 722 2344.1C724.2 2344.4 726.7 2347.4 729.1 2348.9C731.4 2350.3 733.7 2353.2 736.2 2352.6C738.7 2352.1 741.5 2347.4 744.2 2345.5C747 2343.7 749.9 2341.2 752.7 2341.8C755.6 2342.3 758.5 2346.4 761.2 2348.9C764 2351.3 766.8 2356.2 769.3 2356.4C771.8 2356.7 774 2353.3 776.4 2350.3C778.7 2347.3 781.3 2341.1 783.5 2338.5C785.7 2335.9 787.2 2334.5 789.6 2334.7C792 2334.8 794.3 2336.8 797.6 2339.4C801 2342 805.5 2346.9 809.5 2350.3C813.4 2353.7 817.4 2356.8 821.3 2359.7C825.2 2362.7 829.2 2364.2 833.1 2367.8C837.1 2371.3 841.4 2377.1 844.9 2381C848.5 2385 851.2 2390.2 854.4 2391.4C857.5 2392.6 861.3 2388.7 863.9 2388.1C866.4 2387.6 866.9 2386.9 869.5 2388.1C872 2389.3 875.8 2393.4 878.9 2395.2C882.1 2397 884.8 2398 888.4 2399C891.9 2400 896.6 2402.1 900.2 2401.3C903.7 2400.6 906.1 2397 909.7 2394.3C913.2 2391.5 917.5 2387.8 921.5 2384.8C925.4 2381.8 929.4 2379.1 933.3 2376.3C937.2 2373.4 941.2 2369.5 945.1 2367.8C949.1 2366 952.6 2366.2 956.9 2365.9C961.3 2365.6 967.4 2366.5 971.1 2365.9C974.8 2365.3 976.8 2365.5 979.2 2362.1C981.5 2358.7 983.3 2353 985.3 2345.5C987.4 2338.1 989.3 2327.8 991.5 2317.2C993.6 2306.5 996 2291.2 998.1 2281.7C1000.2 2272.3 1002.2 2264.8 1004.2 2260.4C1006.3 2256.1 1008.4 2254.9 1010.4 2255.7C1012.3 2256.5 1014.2 2257.7 1016.1 2265.2C1017.9 2272.6 1019.8 2288 1021.7 2300.6C1023.7 2313.2 1025.7 2329.6 1027.9 2340.8C1030.1 2352 1032.4 2361.1 1035 2367.8C1037.6 2374.5 1040.3 2377.6 1043.5 2381C1046.6 2384.4 1049.8 2386.8 1053.9 2388.1C1058 2389.4 1063.3 2388.9 1068.1 2389.1C1072.8 2389.2 1077.5 2389.4 1082.3 2389.1C1087 2388.7 1092.1 2386.8 1096.4 2386.7C1100.8 2386.5 1104.3 2387.1 1108.3 2388.1C1112.2 2389.1 1115.7 2390.9 1120.1 2392.8C1124.4 2394.8 1130.3 2400.2 1134.3 2399.9C1138.2 2399.7 1140.6 2393.5 1143.7 2391.4C1146.9 2389.3 1149.6 2387.2 1153.2 2387.2C1156.7 2387.2 1161.1 2389.9 1165 2391.4C1168.9 2392.9 1172.9 2395 1176.8 2396.1C1180.8 2397.3 1184.7 2399.3 1188.7 2398.5C1192.6 2397.7 1196.5 2393.9 1200.5 2391.4C1204.4 2388.9 1208.5 2385.7 1212.3 2383.4C1216.1 2381 1219.6 2376.8 1223.2 2377.2C1226.7 2377.6 1229.9 2383.4 1233.6 2385.7C1237.3 2388.1 1241.5 2390.1 1245.4 2391.4C1249.3 2392.8 1253.7 2392.4 1257.2 2393.8C1260.8 2395.2 1263.5 2399.3 1266.7 2399.9C1269.8 2400.6 1273.4 2399.8 1276.1 2397.6C1278.9 2395.4 1280.9 2388.7 1283.2 2386.7C1285.6 2384.7 1288 2384.7 1290.3 2385.7C1292.7 2386.8 1294.7 2390.5 1297.4 2392.8C1300.2 2395.2 1303.7 2399.1 1306.9 2399.9C1310 2400.7 1313.2 2398.4 1316.3 2397.6C1319.5 2396.8 1322.2 2395 1325.8 2395.2C1329.3 2395.4 1333.3 2398.8 1337.6 2399C1341.9 2399.1 1347.1 2395.6 1351.8 2396.1C1356.5 2396.7 1361.3 2401.5 1366 2402.3C1370.7 2403.1 1375.4 2402.1 1380.2 2400.9C1384.9 2399.7 1389.6 2397.1 1394.4 2395.2C1399.1 2393.3 1404.2 2392.3 1408.5 2389.5C1412.9 2386.8 1416.8 2381.8 1420.4 2378.7C1423.9 2375.5 1427.1 2372.2 1429.8 2370.6C1432.6 2369 1433.8 2368.6 1436.9 2369.2C1440.1 2369.7 1444.4 2372.2 1448.7 2373.9C1453.1 2375.7 1458.6 2378 1462.9 2379.6C1467.3 2381.2 1470.8 2382.7 1474.7 2383.4C1478.7 2384 1482.6 2384 1486.6 2383.4C1490.5 2382.7 1494.4 2381.6 1498.4 2379.6C1502.3 2377.6 1506.3 2374.1 1510.2 2371.6C1514.1 2369 1518.6 2366 1522 2364.5C1525.5 2362.9 1529.5 2362.6 1531 2362.2"/>
<path stroke="#999900" d="M207.3 2089.1C208.1 2087.2 210.6 2081.6 212.5 2077.6C214.4 2073.6 216.6 2069.3 218.5 2065.1C220.5 2060.9 222.3 2056.8 224.4 2052.6C226.5 2048.4 228.9 2043.3 231.3 2040.1C233.7 2036.8 236.5 2035.2 238.8 2033.2C241.1 2031.1 242.5 2029.5 245.1 2027.8C247.7 2026.1 251.3 2022.5 254.5 2022.8C257.6 2023.1 260.8 2027.1 263.8 2029.4C266.9 2031.8 269.5 2034.6 272.6 2036.9C275.7 2039.3 279.7 2042.7 282.6 2043.4C285.5 2044.2 287.2 2042.6 290.1 2041.7C293.1 2040.8 297.4 2038.6 300.1 2038.2C302.9 2037.8 304.6 2038.7 306.4 2039.4C308.2 2040.2 309 2040.6 310.8 2042.6C312.6 2044.6 315.1 2048.2 317 2051.3C319 2054.5 320.9 2058 322.7 2061.3C324.5 2064.7 325.8 2068.3 327.7 2071.4C329.6 2074.4 331.6 2077.2 333.9 2079.5C336.2 2081.8 338.8 2083.3 341.5 2085.1C344.1 2087 347.3 2089.3 349.6 2090.8C351.9 2092.2 353 2093.3 355.2 2093.9C357.4 2094.5 360.2 2094.6 362.7 2094.5C365.2 2094.4 367.7 2094.3 370.2 2093.3C372.8 2092.2 375.3 2090.2 378.2 2088.1C381.1 2086.1 384.5 2082.6 387.7 2081C390.8 2079.4 393.8 2079 397.1 2078.7C400.4 2078.3 404.1 2078.4 407.5 2078.7C411 2078.9 414.9 2081.4 417.9 2080.1C420.9 2078.7 423.1 2073.8 425.5 2070.6C427.9 2067.5 429.6 2063 432.1 2061.2C434.6 2059.3 437.8 2059.6 440.6 2059.7C443.5 2059.9 446.4 2062.9 449.1 2062.1C451.9 2061.3 454.3 2055.4 457.2 2055C460.1 2054.6 463.5 2057.4 466.6 2059.7C469.8 2062.1 472.9 2066.4 476.1 2069.2C479.2 2072 482.6 2075.9 485.5 2076.3C488.5 2076.7 491 2075.1 493.6 2071.6C496.2 2068 498.6 2060.9 501.2 2055C503.8 2049.1 506.5 2040.6 509.2 2036.1C511.9 2031.6 514.3 2028.3 517.2 2028.1C520.1 2027.8 523.3 2032.8 526.7 2034.7C530.1 2036.6 534.2 2037.6 537.6 2039.4C541 2041.2 543.9 2042.6 547 2045.5C550.2 2048.5 553.7 2053.4 556.5 2057.4C559.2 2061.3 561.4 2066.4 563.6 2069.2C565.7 2072 567.2 2074.7 569.2 2073.9C571.2 2073.1 573.7 2074.3 575.6 2064.5C577.5 2054.6 579 2035.7 580.7 2014.8C582.3 1993.9 583.8 1964.4 585.3 1939.2C586.8 1913.9 588.3 1886 589.6 1863.5C590.9 1841 592.2 1815.8 593.3 1804.4C594.5 1793 595.6 1794.1 596.7 1794.9C597.8 1795.7 598.8 1795.3 600 1809.1C601.2 1822.9 602.4 1852.1 603.8 1877.7C605.1 1903.3 606.5 1939.2 608 1962.8C609.5 1986.4 610.6 2006.1 612.7 2019.5C614.7 2032.9 617.5 2037.7 620.3 2043.2C623.2 2048.7 626.6 2049.1 629.8 2052.6C632.9 2056.2 635.7 2060.1 639.2 2064.5C642.8 2068.8 647.1 2075.1 651.1 2078.7C655 2082.2 659.3 2083.9 662.9 2085.7C666.4 2087.6 669.6 2087.6 672.3 2089.5C675.1 2091.5 677.1 2095.7 679.4 2097.6C681.8 2099.5 683.9 2101.4 686.5 2100.9C689.1 2100.3 692.5 2098 695 2094.3C697.6 2090.6 699.3 2084.4 701.7 2078.7C704 2072.9 706.9 2064.7 709.2 2059.7C711.6 2054.8 713.3 2050.4 715.8 2048.9C718.4 2047.3 721.4 2049.3 724.4 2050.3C727.3 2051.3 730.7 2055 733.8 2055C737 2055 740.1 2051.5 743.3 2050.3C746.4 2049.1 749.6 2047.1 752.7 2047.9C755.9 2048.7 759 2052.5 762.2 2055C765.3 2057.5 768.6 2063 771.6 2063C774.6 2063 777.4 2057.5 780.2 2055C782.9 2052.5 785.3 2047.9 788.2 2047.9C791.1 2047.9 794.5 2053 797.6 2055C800.8 2057 803.6 2058.2 807.1 2059.7C810.7 2061.3 815 2062.3 818.9 2064.5C822.9 2066.6 827 2069.4 830.8 2072.5C834.5 2075.7 838.5 2080.2 841.6 2083.4C844.8 2086.5 847 2091.2 849.7 2091.4C852.3 2091.7 855.3 2086.9 857.7 2084.8C860.1 2082.7 862.1 2079.9 863.9 2078.7C865.7 2077.4 866.4 2075.7 868.5 2077.2C870.6 2078.8 873.6 2085 876.6 2088.1C879.5 2091.3 882.1 2094.2 886 2096.1C889.9 2098.1 895.9 2100.5 900.2 2099.9C904.5 2099.4 908.1 2095 912 2092.8C916 2090.6 919.9 2088.5 923.8 2086.7C927.8 2084.9 931.7 2083.9 935.7 2082C939.6 2080.1 943.5 2076.8 947.5 2075.3C951.4 2073.8 955.4 2073.4 959.3 2073C963.2 2072.6 967.8 2074.4 971.1 2073C974.4 2071.6 976.8 2069 979.2 2064.5C981.5 2059.9 983.3 2054.2 985.3 2045.5C987.4 2036.9 989.3 2024.7 991.5 2012.4C993.6 2000.2 996 1982.5 998.1 1972.3C1000.2 1962 1002.3 1955.5 1004.2 1951C1006.1 1946.4 1007.6 1944 1009.4 1944.8C1011.2 1945.6 1013.2 1948 1015.1 1955.7C1017 1963.4 1018.9 1978.2 1020.8 1991.2C1022.7 2004.2 1024.4 2021.5 1026.5 2033.7C1028.5 2045.9 1030.7 2056.4 1033.1 2064.5C1035.4 2072.5 1037.8 2077.2 1040.6 2082C1043.5 2086.7 1046.3 2090.4 1050.1 2092.8C1053.9 2095.3 1058.8 2095.8 1063.3 2096.6C1067.9 2097.4 1073.2 2098.4 1077.5 2097.6C1081.9 2096.7 1085.6 2093 1089.3 2091.4C1093.1 2089.8 1096.7 2088.1 1100.2 2088.1C1103.8 2088.1 1106.9 2090.2 1110.6 2091.4C1114.3 2092.6 1118.5 2094.7 1122.4 2095.2C1126.4 2095.7 1130.3 2095.4 1134.3 2094.3C1138.2 2093.1 1142.2 2090.3 1146.1 2088.1C1150 2085.9 1154 2081.8 1157.9 2081C1161.9 2080.2 1165.8 2082 1169.7 2083.4C1173.7 2084.8 1177.6 2087.7 1181.6 2089.5C1185.5 2091.3 1189.8 2094.5 1193.4 2094.3C1196.9 2094 1199.4 2090.7 1202.8 2088.1C1206.2 2085.5 1210.3 2081 1213.7 2078.7C1217.1 2076.3 1220 2073.7 1223.2 2073.9C1226.3 2074.2 1229.5 2078.1 1232.6 2080.1C1235.8 2082 1238.8 2085 1242.1 2085.7C1245.4 2086.5 1249.2 2085 1252.5 2084.8C1255.8 2084.6 1259.2 2083.7 1261.9 2084.8C1264.7 2085.9 1266.7 2090.9 1269 2091.4C1271.4 2092 1273.8 2090.5 1276.1 2088.1C1278.5 2085.7 1281 2079.8 1283.2 2077.2C1285.4 2074.6 1287 2071.9 1289.4 2072.5C1291.7 2073.1 1294.9 2077.9 1297.4 2081C1299.9 2084.2 1301.7 2089.3 1304.5 2091.4C1307.3 2093.5 1310.4 2093.9 1314 2093.8C1317.5 2093.6 1321.8 2089.8 1325.8 2090.5C1329.7 2091.1 1332.9 2096.4 1337.6 2097.6C1342.3 2098.7 1349 2097 1354.2 2097.6C1359.3 2098.1 1363.6 2100.9 1368.3 2100.9C1373.1 2100.9 1377.8 2099.3 1382.5 2097.6C1387.3 2095.8 1392 2092.6 1396.7 2090.5C1401.4 2088.3 1406.6 2087 1410.9 2084.8C1415.2 2082.6 1419.2 2079 1422.7 2077.2C1426.3 2075.4 1428.6 2073.8 1432.2 2073.9C1435.7 2074 1439.7 2076.1 1444 2077.7C1448.3 2079.3 1453.5 2081.6 1458.2 2083.4C1462.9 2085.1 1467.6 2087.1 1472.4 2088.1C1477.1 2089.1 1481.8 2089.8 1486.6 2089.5C1491.3 2089.3 1496 2088.1 1500.8 2086.7C1505.5 2085.3 1510.6 2082.9 1514.9 2081C1519.3 2079.1 1524.1 2076.5 1526.8 2075.3C1529.4 2074.2 1530.3 2074.3 1531 2074.1"/>
<path stroke="#666600" d="M207.8 1780.5C208.7 1778.4 211.6 1771.9 213.5 1767.6C215.5 1763.4 217.4 1759.3 219.4 1755.1C221.4 1750.9 223.3 1746.8 225.7 1742.6C228 1738.4 231.4 1733.5 233.6 1730.1C235.7 1726.6 236.9 1724.2 238.8 1721.9C240.7 1719.6 242.6 1718 245.1 1716.3C247.6 1714.6 250.7 1711.7 253.8 1711.9C257 1712.1 260.7 1715.5 263.8 1717.6C267 1719.6 269.7 1722.7 272.6 1724.4C275.5 1726.2 278.4 1728.1 281.4 1728.2C284.3 1728.3 287.6 1726.7 290.1 1725.1C292.6 1723.4 294.3 1720.1 296.4 1718.2C298.5 1716.3 300.4 1713.9 302.6 1713.8C304.9 1713.7 308.4 1715.5 310.2 1717.6C311.9 1719.6 312.3 1723.2 313.3 1726.3C314.3 1729.4 315.2 1732.8 316.3 1736.3C317.4 1739.9 318.7 1744 319.9 1747.6C321.1 1751.1 321.9 1754.3 323.6 1757.6C325.2 1760.9 327.5 1764.5 329.8 1767.6C332.2 1770.8 334.9 1773.7 337.7 1776.4C340.5 1779.1 343.5 1781.9 346.5 1783.9C349.4 1785.9 352.3 1787.2 355.2 1788.3C358.1 1789.3 361.5 1790 364 1790.2C366.5 1790.3 368.1 1789.6 370.2 1788.9C372.4 1788.2 374.1 1787.7 376.8 1785.7C379.5 1783.8 383.1 1779.4 386.2 1777.2C389.4 1775 392.5 1773.6 395.7 1772.5C398.9 1771.4 401.6 1770.4 405.2 1770.6C408.7 1770.8 413.8 1774.9 417 1773.9C420.1 1772.9 421.9 1768 424.1 1764.5C426.3 1760.9 428.1 1755.6 430.2 1752.6C432.4 1749.7 433.9 1747.4 436.8 1747C439.8 1746.6 444.3 1750.1 447.7 1750.3C451.1 1750.4 454 1746.7 457.2 1747.9C460.3 1749.1 463.5 1754.4 466.6 1757.4C469.8 1760.4 472.9 1763.9 476.1 1765.9C479.2 1767.9 482.4 1769.8 485.5 1769.2C488.7 1768.6 492.2 1766.4 495 1762.1C497.8 1757.8 499.7 1749.5 502.1 1743.2C504.5 1736.9 506.8 1728.4 509.2 1724.3C511.6 1720.2 513.5 1718.4 516.3 1718.6C519 1718.8 522.2 1724.1 525.7 1725.2C529.3 1726.3 534 1724.2 537.6 1725.2C541.1 1726.2 544.3 1727.6 547 1731.4C549.8 1735.1 551.8 1742.4 554.1 1747.9C556.5 1753.4 558.8 1761.2 561.2 1764.5C563.6 1767.8 566.2 1769.7 568.3 1767.8C570.4 1765.8 572.1 1763 574 1752.6C575.9 1742.2 577.8 1725.8 579.6 1705.4C581.4 1684.9 583.2 1654.9 584.8 1629.7C586.4 1604.5 587.8 1576.1 589.2 1554C590.6 1532 592.1 1508.2 593.3 1497.3C594.6 1486.4 595.6 1488 596.7 1488.8C597.8 1489.6 598.8 1488.8 600 1502C601.2 1515.3 602.4 1543 603.8 1568.2C605.1 1593.4 606.5 1629.7 608 1653.3C609.5 1677 610.6 1696.1 612.7 1710.1C614.7 1724.1 617.5 1731.2 620.3 1737.5C623.2 1743.8 626.6 1743.8 629.8 1747.9C632.9 1752 635.7 1757.4 639.2 1762.1C642.8 1766.8 647.1 1773 651.1 1776.3C655 1779.6 659.3 1780.4 662.9 1782C666.4 1783.5 669.6 1783.9 672.3 1785.7C675.1 1787.6 677.1 1791.1 679.4 1792.8C681.8 1794.6 683.9 1796.7 686.5 1796.1C689.1 1795.6 692.5 1793.2 695 1789.5C697.6 1785.8 699.3 1779.7 701.7 1773.9C704 1768.2 706.6 1759.7 709.2 1755C711.8 1750.3 714.3 1746.3 717.3 1745.5C720.2 1744.8 723.6 1749.1 726.7 1750.3C729.9 1751.5 733 1753.4 736.2 1752.6C739.3 1751.9 742.5 1747.1 745.6 1745.5C748.8 1744 752.2 1742.4 755.1 1743.2C758 1744 760.4 1747.8 763.1 1750.3C765.9 1752.8 768.8 1758.3 771.6 1758.3C774.5 1758.3 777.4 1753 780.2 1750.3C782.9 1747.6 785.3 1742.6 788.2 1742.2C791.1 1741.8 794.5 1745.8 797.6 1747.9C800.8 1750 803.6 1753.3 807.1 1755C810.7 1756.7 815.4 1756.2 818.9 1758.3C822.5 1760.4 824.8 1764.4 828.4 1767.8C831.9 1771.2 836.7 1775.5 840.2 1778.7C843.8 1781.8 846.8 1786.3 849.7 1786.7C852.6 1787.1 855.3 1783.1 857.7 1781C860.1 1778.9 862.1 1775.3 863.9 1773.9C865.7 1772.6 866.4 1771.4 868.5 1773C870.6 1774.6 873.6 1780.5 876.6 1783.4C879.5 1786.3 882.1 1788.7 886 1790.5C889.9 1792.2 895.9 1794.6 900.2 1793.8C904.5 1793 908.1 1788 912 1785.7C916 1783.5 919.9 1781.8 923.8 1780.1C927.8 1778.3 931.7 1777.4 935.7 1775.3C939.6 1773.3 943.5 1769.4 947.5 1767.8C951.4 1766.2 955.4 1766.2 959.3 1765.9C963.2 1765.6 967.8 1767.3 971.1 1765.9C974.4 1764.5 976.8 1761.9 979.2 1757.4C981.5 1752.8 983.3 1747.1 985.3 1738.5C987.4 1729.8 989.3 1718 991.5 1705.4C993.6 1692.7 996 1673.4 998.1 1662.8C1000.2 1652.2 1002.3 1645.9 1004.2 1641.5C1006.1 1637.2 1007.6 1636 1009.4 1636.8C1011.2 1637.6 1013.2 1638.8 1015.1 1646.2C1017 1653.7 1018.9 1668.3 1020.8 1681.7C1022.7 1695.1 1024.4 1714 1026.5 1726.6C1028.5 1739.2 1030.7 1749.1 1033.1 1757.4C1035.4 1765.6 1037.8 1771.4 1040.6 1776.3C1043.5 1781.2 1046.3 1784.3 1050.1 1786.7C1053.9 1789.1 1058.8 1789.7 1063.3 1790.5C1067.9 1791.3 1073.2 1792.2 1077.5 1791.4C1081.9 1790.6 1085.6 1787.5 1089.3 1785.7C1093.1 1784 1096.7 1781.2 1100.2 1781C1103.8 1780.9 1106.9 1783.4 1110.6 1784.8C1114.3 1786.2 1118.5 1788.7 1122.4 1789.5C1126.4 1790.3 1130.3 1790.6 1134.3 1789.5C1138.2 1788.5 1142.2 1785.6 1146.1 1783.4C1150 1781.2 1154 1777.1 1157.9 1776.3C1161.9 1775.5 1165.8 1777.1 1169.7 1778.7C1173.7 1780.2 1177.6 1783.9 1181.6 1785.7C1185.5 1787.6 1189.8 1789.9 1193.4 1789.5C1196.9 1789.1 1199.4 1786 1202.8 1783.4C1206.2 1780.8 1210.3 1776.3 1213.7 1773.9C1217.1 1771.6 1220 1769.2 1223.2 1769.2C1226.3 1769.2 1229.5 1772 1232.6 1773.9C1235.8 1775.9 1238.8 1780.2 1242.1 1781C1245.4 1781.8 1249.2 1779.3 1252.5 1778.7C1255.8 1778 1259.2 1776.1 1261.9 1777.2C1264.7 1778.4 1266.7 1784.7 1269 1785.7C1271.4 1786.8 1273.8 1785.7 1276.1 1783.4C1278.5 1781 1281 1774.2 1283.2 1771.6C1285.4 1769 1287 1767 1289.4 1767.8C1291.7 1768.6 1294.9 1773.1 1297.4 1776.3C1299.9 1779.4 1301.7 1784.7 1304.5 1786.7C1307.3 1788.7 1310.4 1788.4 1314 1788.1C1317.5 1787.8 1321.8 1784.2 1325.8 1784.8C1329.7 1785.4 1332.9 1790.1 1337.6 1791.4C1342.3 1792.8 1349 1792.4 1354.2 1792.8C1359.3 1793.3 1363.6 1794.5 1368.3 1794.3C1373.1 1794 1377.8 1793 1382.5 1791.4C1387.3 1789.8 1392 1786.7 1396.7 1784.8C1401.4 1782.9 1406.6 1782.3 1410.9 1780.1C1415.2 1777.9 1419.2 1773.4 1422.7 1771.6C1426.3 1769.7 1428.6 1769 1432.2 1769.2C1435.7 1769.4 1439.7 1770.9 1444 1772.5C1448.3 1774.1 1453.5 1776.8 1458.2 1778.7C1462.9 1780.5 1467.6 1782.4 1472.4 1783.4C1477.1 1784.4 1481.8 1785.2 1486.6 1784.8C1491.3 1784.4 1496 1782.6 1500.8 1781C1505.5 1779.4 1510.6 1777.3 1514.9 1775.3C1519.3 1773.4 1524.1 1770.4 1526.8 1769.2C1529.4 1768 1530.3 1768.1 1531 1767.9"/>
<path stroke="#FFCC00" d="M207.5 1485.8C208.2 1484 209.8 1479 211.5 1475.2C213.2 1471.3 215.9 1466.8 217.8 1462.7C219.6 1458.5 221 1454.3 222.5 1450.1C224.1 1446 225.2 1441.8 227.3 1437.6C229.4 1433.4 232.6 1429.3 235.3 1425.1C238.1 1420.9 241.4 1416.8 243.8 1412.6C246.3 1408.4 248.5 1404.2 250.1 1400.1C251.6 1395.9 252.1 1391.3 253.2 1387.6C254.4 1383.8 255.5 1379.8 257 1377.5C258.4 1375.2 260.1 1373.6 262 1373.8C263.8 1374 266.6 1375.9 268.2 1378.8C269.9 1381.7 270.6 1387.3 272 1391.3C273.3 1395.3 274.6 1400 276.4 1402.6C278.1 1405.2 280.5 1407.4 282.6 1407C284.7 1406.5 287 1403.3 288.9 1400.1C290.8 1396.8 292.2 1390.5 293.9 1387.6C295.6 1384.6 297 1382.8 298.9 1382.5C300.8 1382.3 303.5 1383.8 305.2 1386.3C306.8 1388.8 307.9 1393.6 308.9 1397.6C310 1401.5 310.5 1405.9 311.4 1410.1C312.4 1414.3 313.2 1418.4 314.5 1422.6C315.9 1426.8 318 1431.3 319.5 1435.1C321.1 1439 322.1 1442.6 323.9 1445.8C325.8 1448.9 328.5 1451.4 330.8 1453.9C333.1 1456.4 335.3 1458.1 337.7 1460.8C340.1 1463.5 342.8 1467.1 345.2 1470.2C347.6 1473.2 350 1477.2 352.1 1478.9C354.2 1480.7 355.1 1480.4 357.7 1480.8C360.3 1481.2 364.2 1481.5 367.7 1481.2C371.3 1480.8 375.7 1480.4 379.2 1478.7C382.6 1476.9 385.6 1473.2 388.6 1470.6C391.6 1468 394.4 1464.5 397.1 1463C399.9 1461.6 401.8 1461.9 405.2 1462.1C408.5 1462.3 413.8 1466.4 417 1464.5C420.1 1462.5 421.9 1455 424.1 1450.3C426.3 1445.5 428.3 1439.6 430.2 1436.1C432.2 1432.5 433.4 1430.3 435.9 1429C438.4 1427.7 442.2 1428.1 445.4 1428.1C448.5 1428.1 451.7 1426.9 454.8 1429C458 1431.1 461.1 1437.3 464.3 1440.8C467.4 1444.4 470.6 1447.5 473.7 1450.3C476.9 1453 480.4 1455.8 483.2 1457.4C485.9 1458.9 487.9 1460.9 490.3 1459.7C492.6 1458.6 495 1455.4 497.4 1450.3C499.7 1445.2 502.1 1435.3 504.5 1429C506.8 1422.7 509.2 1416 511.6 1412.4C513.9 1408.9 515.9 1408 518.7 1407.7C521.4 1407.5 525 1410.6 528.1 1411C531.3 1411.4 534.4 1408.7 537.6 1410.1C540.7 1411.5 543.9 1415.6 547 1419.5C550.2 1423.5 553.3 1429 556.5 1433.7C559.6 1438.5 563.6 1444.8 565.9 1447.9C568.3 1451.1 569.1 1453.8 570.7 1452.6C572.3 1451.5 573.8 1450.3 575.6 1440.8C577.3 1431.4 579.4 1416.8 581.2 1395.9C583 1375 584.7 1342.3 586.3 1315.5C587.8 1288.7 589.2 1256 590.4 1235.1C591.7 1214.2 592.7 1198.9 593.8 1190.2C594.8 1181.5 595.6 1181.9 596.7 1183.1C597.7 1184.3 598.8 1183.1 600 1197.3C601.2 1211.5 602.4 1242.2 603.8 1268.2C605.1 1294.2 606.5 1330.5 608 1353.3C609.5 1376.2 610.6 1392.7 612.7 1405.4C614.7 1418 617.5 1423.9 620.3 1429C623.2 1434.1 626.6 1432.2 629.8 1436.1C632.9 1440 636.1 1447.5 639.2 1452.6C642.4 1457.8 645.1 1463.8 648.7 1466.8C652.2 1469.8 657.4 1469.7 660.5 1470.6C663.7 1471.6 664.8 1470.4 667.6 1472.5C670.4 1474.6 673.9 1480.2 677.1 1483.4C680.2 1486.5 683.5 1491.4 686.5 1491.4C689.5 1491.4 692.5 1487.9 695 1483.4C697.6 1478.9 699.5 1470.8 701.7 1464.5C703.8 1458.2 705.6 1450.9 707.8 1445.5C710 1440.2 712.5 1435.1 714.9 1432.3C717.3 1429.6 719.6 1428.6 722 1429C724.4 1429.4 726.7 1432.7 729.1 1434.7C731.4 1436.6 733.7 1440.8 736.2 1440.8C738.7 1440.8 741.5 1436.2 744.2 1434.7C747 1433.1 750.1 1430.9 752.7 1431.4C755.3 1431.8 757.5 1435.1 759.8 1437.5C762.2 1439.9 764.5 1444.2 766.9 1445.5C769.3 1446.9 771.6 1447.5 774 1445.5C776.4 1443.6 778.7 1436.6 781.1 1433.7C783.5 1430.8 785.4 1428.1 788.2 1428.1C791 1428.1 794.5 1431.2 797.6 1433.7C800.8 1436.2 803.6 1440.4 807.1 1443.2C810.7 1445.9 815 1448.1 818.9 1450.3C822.9 1452.5 827.2 1453.7 830.8 1456.4C834.3 1459.2 837.1 1463.4 840.2 1466.8C843.4 1470.3 846.8 1476.4 849.7 1477.2C852.6 1478 855.3 1473.7 857.7 1471.6C860.1 1469.4 862.1 1466 863.9 1464.5C865.7 1462.9 866.4 1460.5 868.5 1462.1C870.6 1463.7 873.6 1470.4 876.6 1473.9C879.5 1477.5 882.1 1481.4 886 1483.4C889.9 1485.4 895.9 1486.1 900.2 1485.7C904.5 1485.4 908.5 1482.7 912 1481C915.6 1479.3 918.3 1476.9 921.5 1475.3C924.6 1473.8 927.4 1473.8 930.9 1471.6C934.5 1469.4 938.8 1464.1 942.8 1462.1C946.7 1460.1 949.8 1460.1 954.6 1459.7C959.3 1459.3 967 1460.9 971.1 1459.7C975.2 1458.6 976.8 1457 979.2 1452.6C981.5 1448.3 983.1 1442.4 985.3 1433.7C987.5 1425.1 990 1412.4 992.4 1400.6C994.8 1388.8 997.3 1372.1 999.5 1362.8C1001.7 1353.5 1003.8 1348.4 1005.6 1344.8C1007.5 1341.3 1008.6 1340.5 1010.4 1341.5C1012.1 1342.5 1014.2 1343.5 1016.1 1351C1017.9 1358.5 1019.8 1373.4 1021.7 1386.4C1023.7 1399.4 1025.7 1417.2 1027.9 1429C1030.1 1440.8 1032.4 1449.9 1035 1457.4C1037.6 1464.9 1040.5 1470 1043.5 1473.9C1046.5 1477.9 1049.2 1479.7 1052.9 1481C1056.6 1482.4 1061.2 1482 1065.7 1482C1070.2 1482 1075.9 1481.8 1079.9 1481C1083.8 1480.2 1086.2 1478.2 1089.3 1477.2C1092.5 1476.3 1095.7 1475.1 1098.8 1475.3C1102 1475.6 1104.3 1477.5 1108.3 1478.7C1112.2 1479.8 1118.1 1481.2 1122.4 1482C1126.8 1482.7 1130.7 1483.9 1134.3 1483.4C1137.8 1482.8 1140.6 1480.2 1143.7 1478.7C1146.9 1477.1 1149.6 1474.5 1153.2 1473.9C1156.7 1473.4 1161.1 1474.2 1165 1475.3C1168.9 1476.5 1172.9 1479.3 1176.8 1481C1180.8 1482.7 1185.1 1486.1 1188.7 1485.7C1192.2 1485.4 1194.6 1481 1198.1 1478.7C1201.7 1476.3 1206.4 1473.9 1209.9 1471.6C1213.5 1469.2 1216.9 1465.9 1219.4 1464.5C1221.9 1463 1222.7 1462.3 1225.1 1463C1227.4 1463.8 1230.6 1467 1233.6 1469.2C1236.6 1471.4 1239.5 1474.9 1243 1476.3C1246.6 1477.6 1251.3 1476.4 1254.9 1477.2C1258.4 1478 1261.6 1480.2 1264.3 1481C1267.1 1481.8 1268.8 1483.1 1271.4 1482C1274 1480.8 1277.2 1476.3 1279.9 1473.9C1282.7 1471.6 1285.4 1468.2 1288 1467.8C1290.5 1467.4 1292.3 1469.4 1295 1471.6C1297.8 1473.8 1301.4 1479 1304.5 1481C1307.7 1483 1310 1483.2 1314 1483.4C1317.9 1483.5 1323.8 1482 1328.2 1482C1332.5 1482 1335.6 1483.1 1340 1483.4C1344.3 1483.6 1349.4 1482.6 1354.2 1483.4C1358.9 1484.2 1363.6 1487.6 1368.3 1488.1C1373.1 1488.7 1377.8 1488 1382.5 1486.7C1387.3 1485.4 1392 1482.2 1396.7 1480.1C1401.4 1477.9 1406.6 1476.5 1410.9 1473.9C1415.2 1471.3 1419.2 1467.2 1422.7 1464.5C1426.3 1461.7 1429 1458.2 1432.2 1457.4C1435.3 1456.6 1438.1 1458.3 1441.6 1459.7C1445.2 1461.2 1449.5 1463.9 1453.5 1465.9C1457.4 1467.9 1461.3 1470.2 1465.3 1471.6C1469.2 1472.9 1473.2 1473.7 1477.1 1473.9C1481 1474.2 1485 1473.4 1488.9 1473C1492.9 1472.6 1496.8 1473 1500.8 1471.6C1504.7 1470.1 1508.6 1466.8 1512.6 1464.5C1516.5 1462.1 1521.3 1458.8 1524.4 1457.4C1527.5 1456 1529.9 1456.3 1531 1456.1"/>
<path stroke="#FF9933" d="M208.1 1182C208.8 1180.5 210.6 1176.3 212.1 1172.7C213.7 1169 215.6 1164.3 217.3 1160.1C219 1156 220.5 1151.8 222.3 1147.6C224.1 1143.4 225.4 1139.3 227.9 1135.1C230.5 1130.9 234.7 1126.1 237.6 1122.6C240.4 1119 242.8 1116.4 245.1 1113.8C247.4 1111.2 249.3 1109.2 251.3 1106.9C253.3 1104.6 255.2 1101.8 257 1100.1C258.7 1098.3 260.2 1096.6 262 1096.6C263.7 1096.6 265.6 1097.8 267.6 1100.1C269.6 1102.3 271.6 1106.9 273.9 1110.1C276.2 1113.2 279.1 1118 281.4 1118.8C283.7 1119.7 285.5 1117.4 287.6 1115.1C289.7 1112.8 291.8 1108.6 293.9 1105.1C296 1101.5 298.3 1097.1 300.1 1093.8C302 1090.5 303.5 1087.1 305.2 1085C306.8 1082.9 308.4 1081.3 310.2 1081.3C311.9 1081.3 314.2 1082.5 315.8 1085C317.4 1087.5 318.5 1092.1 319.5 1096.3C320.6 1100.5 321.1 1105.3 322.1 1110.1C323 1114.9 324.1 1120.1 325.2 1125.1C326.2 1130.1 327.3 1136.1 328.3 1140.1C329.4 1144.1 329.9 1146.4 331.4 1148.9C333 1151.4 335.6 1152.8 337.7 1155.1C339.8 1157.4 341.9 1159.9 344 1162.6C346 1165.4 348.2 1169.1 350.2 1171.4C352.2 1173.7 353.8 1175.3 355.8 1176.4C357.9 1177.6 360.3 1178 362.7 1178.3C365.1 1178.5 367.9 1178.4 370.2 1177.9C372.6 1177.4 374.1 1177 376.8 1175.3C379.5 1173.7 383.1 1169.8 386.2 1167.8C389.4 1165.7 392.5 1164 395.7 1163C398.9 1162.1 401.6 1162.4 405.2 1162.1C408.7 1161.8 413.8 1163.1 417 1161.2C420.1 1159.2 421.7 1154.8 424.1 1150.3C426.4 1145.7 428.8 1137.7 431.2 1133.7C433.5 1129.8 435.5 1127.3 438.3 1126.6C441 1126 444.2 1128 447.7 1129.9C451.3 1131.9 455.6 1135.3 459.5 1138.5C463.5 1141.6 467.8 1145.7 471.4 1148.9C474.9 1152 478.1 1155.8 480.8 1157.4C483.6 1158.9 485.5 1159.9 487.9 1158.3C490.3 1156.7 492.6 1152.8 495 1147.9C497.4 1143 499.7 1136.1 502.1 1129C504.5 1121.9 507.2 1112.1 509.2 1105.4C511.2 1098.7 512.3 1092.5 513.9 1088.8C515.5 1085.1 516.8 1082.7 518.7 1083.1C520.5 1083.5 522.8 1086.3 524.8 1091.2C526.8 1096.1 528.3 1105.4 530.5 1112.4C532.6 1119.5 534.8 1127.8 537.6 1133.7C540.3 1139.6 543.9 1144.1 547 1147.9C550.2 1151.7 553.7 1154.8 556.5 1156.4C559.2 1158 561.2 1157.6 563.6 1157.4C565.9 1157.1 568.4 1157.4 570.7 1155C573 1152.6 575.3 1153 577.3 1143.2C579.3 1133.3 581.1 1117.2 582.8 1095.9C584.5 1074.6 586.1 1042.3 587.5 1015.5C588.9 988.7 590.1 957.2 591.3 935.1C592.4 913.1 593.7 892.7 594.6 883.1C595.5 873.5 595.8 875.9 596.7 877.4C597.5 879 598.5 877.4 599.6 892.6C600.7 907.7 602 939.8 603.3 968.2C604.7 996.6 606.1 1039.2 607.5 1062.8C609 1086.4 610.2 1098.4 612.1 1110.1C614.1 1121.7 616.8 1128.1 619.4 1132.8C621.9 1137.5 624.5 1135.9 627.4 1138.5C630.3 1141 634.1 1143.6 636.9 1147.9C639.6 1152.2 641.6 1159.9 644 1164.5C646.3 1169 648.3 1173.8 651.1 1175.3C653.8 1176.9 657.8 1174.3 660.5 1173.9C663.3 1173.5 664.8 1172 667.6 1173C670.4 1174 673.9 1178.2 677.1 1180.1C680.2 1182 683.5 1184.6 686.5 1184.3C689.5 1184.1 692.5 1182.4 695 1178.7C697.6 1174.9 699.5 1168 701.7 1162.1C703.8 1156.2 705.6 1148.5 707.8 1143.2C710 1137.8 712.8 1132.5 714.9 1129.9C717 1127.3 718.4 1126.9 720.6 1127.6C722.8 1128.2 725.8 1131.9 728.1 1133.7C730.5 1135.5 732.2 1138.9 734.8 1138.5C737.3 1138.1 740.7 1132.8 743.3 1131.4C745.9 1129.9 747.6 1128.8 750.4 1129.9C753.1 1131.1 756.7 1135.5 759.8 1138.5C763 1141.5 766.1 1147.5 769.3 1147.9C772.4 1148.3 775.6 1143.6 778.7 1140.8C781.9 1138.1 785 1132.2 788.2 1131.4C791.3 1130.6 794.1 1133.7 797.6 1136.1C801.2 1138.5 805.5 1142.6 809.5 1145.5C813.4 1148.5 817.4 1151.6 821.3 1153.6C825.2 1155.6 829.6 1155.6 833.1 1157.4C836.7 1159.2 839.8 1161.9 842.6 1164.5C845.3 1167 847.3 1172.1 849.7 1172.5C852 1172.9 854.4 1169.2 856.8 1166.8C859.1 1164.5 861.7 1159.9 863.9 1158.3C866 1156.7 867.3 1155.8 869.5 1157.4C871.6 1158.9 873.4 1164.6 876.6 1167.8C879.7 1170.9 884.4 1173.9 888.4 1176.3C892.3 1178.7 896.6 1181.6 900.2 1182C903.7 1182.4 906.5 1180.2 909.7 1178.7C912.8 1177.1 915.6 1174.1 919.1 1172.5C922.7 1170.9 927 1170.9 930.9 1169.2C934.9 1167.5 938.8 1163.7 942.8 1162.1C946.7 1160.5 949.8 1160.1 954.6 1159.7C959.3 1159.3 967 1160.9 971.1 1159.7C975.2 1158.6 976.8 1157 979.2 1152.6C981.5 1148.3 983.1 1143.2 985.3 1133.7C987.5 1124.3 990 1109.3 992.4 1095.9C994.8 1082.5 997.3 1063.7 999.5 1053.3C1001.7 1042.9 1003.8 1037.4 1005.6 1033.5C1007.5 1029.5 1008.6 1028.7 1010.4 1029.7C1012.1 1030.6 1014.2 1032.1 1016.1 1039.2C1017.9 1046.2 1019.8 1059.6 1021.7 1072.3C1023.7 1084.9 1025.7 1102.6 1027.9 1114.8C1030.1 1127 1032.2 1137.3 1035 1145.5C1037.7 1153.8 1041.3 1159.7 1044.4 1164.5C1047.6 1169.2 1050.3 1172 1053.9 1173.9C1057.4 1175.9 1061.4 1175.7 1065.7 1176.3C1070 1176.8 1075.2 1177.9 1079.9 1177.2C1084.6 1176.6 1089.7 1172.8 1094.1 1172.5C1098.4 1172.2 1101.6 1174.7 1105.9 1175.3C1110.2 1176 1115.4 1176.1 1120.1 1176.3C1124.8 1176.4 1130.3 1177.5 1134.3 1176.3C1138.2 1175.1 1140.6 1171.2 1143.7 1169.2C1146.9 1167.2 1149.6 1164.9 1153.2 1164.5C1156.7 1164.1 1161.1 1165.3 1165 1166.8C1168.9 1168.4 1172.9 1172.1 1176.8 1173.9C1180.8 1175.7 1184.7 1177.9 1188.7 1177.7C1192.6 1177.5 1196.1 1174.9 1200.5 1172.5C1204.8 1170.1 1210.6 1165.4 1214.7 1163C1218.8 1160.7 1221.5 1158.1 1225.1 1158.3C1228.6 1158.6 1232.2 1162.7 1235.9 1164.5C1239.7 1166.3 1243.8 1168 1247.8 1169.2C1251.7 1170.4 1256 1170.4 1259.6 1171.6C1263.1 1172.7 1265.9 1176.9 1269 1176.3C1272.2 1175.7 1275.7 1170.8 1278.5 1167.8C1281.3 1164.8 1283.2 1159.3 1285.6 1158.3C1288 1157.4 1289.9 1159.5 1292.7 1162.1C1295.4 1164.7 1299 1171.2 1302.1 1173.9C1305.3 1176.7 1307.7 1178.1 1311.6 1178.7C1315.5 1179.2 1321.5 1177 1325.8 1177.2C1330.1 1177.5 1332.9 1179.7 1337.6 1180.1C1342.3 1180.5 1349 1179 1354.2 1179.6C1359.3 1180.1 1363.2 1183.3 1368.3 1183.4C1373.5 1183.5 1379.4 1181.6 1384.9 1180.1C1390.4 1178.5 1396.3 1176.1 1401.4 1173.9C1406.6 1171.7 1411.7 1169.2 1415.6 1166.8C1419.6 1164.5 1422.3 1161.5 1425.1 1159.7C1427.8 1158 1429.4 1156.4 1432.2 1156.4C1434.9 1156.4 1437.7 1158 1441.6 1159.7C1445.6 1161.5 1451.1 1164.7 1455.8 1166.8C1460.6 1169 1465.3 1171.1 1470 1172.5C1474.7 1173.9 1479.5 1175.3 1484.2 1175.3C1488.9 1175.3 1493.7 1173.9 1498.4 1172.5C1503.1 1171.1 1508.2 1168.7 1512.6 1166.8C1516.9 1164.9 1521.3 1162.5 1524.4 1161.2C1527.5 1159.8 1529.9 1159 1531 1158.5"/>
<path stroke="#8B521A" d="M207.5 875.9C208.1 873.7 209.8 867 211 862.7C212.2 858.4 213.4 854.4 214.8 850.2C216.1 846 217.5 841.9 219 837.7C220.6 833.5 222.3 829.3 223.9 825.2C225.6 821 227.2 816.8 228.9 812.7C230.7 808.5 232.7 804.3 234.4 800.1C236.2 796 237.6 791.8 239.6 787.6C241.5 783.4 243.8 779.3 245.9 775.1C248.1 770.9 250.5 766.8 252.6 762.6C254.6 758.4 256.5 754.2 258.3 750.1C260.2 745.9 261.8 741.1 263.5 737.6C265.1 734 266.5 731.1 268.2 728.8C270 726.5 271.5 724.5 273.9 723.5C276.3 722.6 280.1 723.8 282.6 722.9C285.1 722 286.8 719.8 288.9 718.2C291 716.5 293.3 714.1 295.1 713.1C297 712.2 298.3 712 300.1 712.5C302 713 304.2 713.1 306.4 716.3C308.6 719.4 311.1 726.1 313.2 731.3C315.3 736.5 317.4 741.9 318.9 747.6C320.5 753.2 321.3 758.8 322.6 765.1C323.8 771.3 324.8 778.9 326.2 785.1C327.6 791.4 329.1 797.6 330.8 802.6C332.5 807.6 333.8 810.6 336.3 815.2C338.9 819.7 343.3 825.6 346.1 830.2C348.9 834.8 350.4 838.7 353 842.7C355.5 846.7 358.6 851.3 361.5 854C364.4 856.7 367.3 859.3 370.2 859C373.2 858.7 375.7 854.8 379.2 852.1C382.6 849.4 387.4 845.6 391 842.6C394.5 839.6 397.3 836.1 400.4 834.1C403.6 832.2 406.7 832.9 409.9 830.8C413 828.7 416.6 826.9 419.3 821.4C422.1 815.8 424.1 805.2 426.4 797.7C428.8 790.2 431.2 781 433.5 776.4C435.9 771.9 437.9 770.5 440.6 770.3C443.4 770.1 446.9 772.4 450.1 775C453.2 777.6 456 781.7 459.5 785.9C463.1 790.1 467.8 796.1 471.4 800.1C474.9 804 478.1 807.3 480.8 809.5C483.6 811.7 485.5 814.1 487.9 813.3C490.3 812.5 492.6 809 495 804.8C497.4 800.6 499.7 793.8 502.1 788.3C504.5 782.7 507.2 776.7 509.2 771.7C511.2 766.7 512.3 761.2 513.9 758.5C515.5 755.7 516.8 754.5 518.7 755.2C520.5 755.8 522.8 758.3 524.8 762.3C526.8 766.2 528.3 773.3 530.5 778.8C532.6 784.3 534.8 790.6 537.6 795.4C540.3 800.1 543.9 802.8 547 807.2C550.2 811.5 553.7 818.2 556.5 821.4C559.2 824.5 560.8 826.5 563.6 826.1C566.3 825.7 570.1 824.1 573 819C576 813.9 579 810.3 581.2 795.4C583.4 780.4 584.7 755.9 586.3 729.2C587.8 702.4 589.2 659 590.4 634.6C591.7 610.1 592.7 592.8 593.8 582.6C594.8 572.3 595.6 572.3 596.7 573.1C597.7 573.9 598.8 573.1 600 587.3C601.3 601.5 602.7 632.2 604.2 658.2C605.6 684.2 606.9 722.8 608.5 743.3C610.1 763.8 611.4 771.7 613.8 781.2C616.1 790.6 619.6 795 622.7 800.1C625.7 805.2 629.4 808 632.1 811.9C634.9 815.8 636.5 819 639.2 823.7C642 828.5 645.5 835.5 648.7 840.3C651.8 845 655 849.5 658.2 852.1C661.3 854.7 664.5 853.5 667.6 855.9C670.8 858.2 673.8 862.6 677.1 866.3C680.4 870 684.5 877.3 687.5 878.1C690.5 878.9 692.4 875.4 695 871C697.6 866.7 700.6 858 703.1 852.1C705.6 846.2 707.8 839.9 710.2 835.5C712.5 831.2 714.5 826.9 717.3 826.1C720 825.3 723.2 830.4 726.7 830.8C730.3 831.2 735 830 738.5 828.5C742.1 826.9 744.8 822.8 748 821.4C751.1 819.9 753.9 818.8 757.5 819.9C761 821.1 765.7 828.6 769.3 828.5C772.8 828.3 775.6 822.5 778.7 819C781.9 815.5 785 808.4 788.2 807.2C791.3 806 794.1 809.3 797.6 811.9C801.2 814.5 805.1 818.8 809.5 822.8C813.8 826.7 819.3 832.2 823.7 835.5C828 838.9 831.9 839.1 835.5 842.6C839 846.2 842.2 853.5 844.9 856.8C847.7 860.1 849.3 863.3 852 862.5C854.8 861.7 858.6 854.2 861.5 852.1C864.4 850 866.6 847.4 869.5 849.7C872.4 852.1 874.6 863.1 878.9 866.3C883.2 869.4 889.9 869.8 895.5 868.7C901 867.5 906.5 861.6 912 859.2C917.5 856.8 923.4 856.8 928.6 854.5C933.7 852.1 938 846.4 942.8 845C947.5 843.6 952.2 846 956.9 846C961.7 846 967.2 846 971.1 845C975.1 844.1 977.8 843.8 980.6 840.3C983.3 836.7 985.3 831.2 987.7 823.7C990 816.2 992.4 805.6 994.8 795.4C997.1 785.1 999.5 770 1001.9 762.3C1004.2 754.5 1006.6 749 1009 749C1011.3 749 1013.7 754.1 1016.1 762.3C1018.4 770.4 1020.8 786.7 1023.1 797.7C1025.5 808.8 1027.5 820.2 1030.2 828.5C1033 836.7 1036.1 842.6 1039.7 847.4C1043.2 852.1 1047.6 854.6 1051.5 856.8C1055.5 859 1059 860.5 1063.3 860.6C1067.7 860.8 1072.8 858.8 1077.5 857.8C1082.3 856.8 1087.8 854.8 1091.7 854.5C1095.7 854.1 1097.6 854.3 1101.2 855.9C1104.7 857.5 1108.3 862.4 1113 863.9C1117.7 865.4 1123.6 865.7 1129.5 864.9C1135.5 864.1 1142.9 859.7 1148.5 859.2C1154 858.6 1157.9 860.2 1162.6 861.6C1167.4 862.9 1172.5 865.7 1176.8 867.2C1181.2 868.8 1184.7 871.6 1188.7 871C1192.6 870.5 1196.1 866.4 1200.5 863.9C1204.8 861.4 1210.7 857.7 1214.7 855.9C1218.6 854.1 1220.6 852.3 1224.1 853C1227.7 853.8 1231.2 858.2 1235.9 860.6C1240.7 863.1 1247.4 865.6 1252.5 867.7C1257.6 869.8 1262.7 873.6 1266.7 873.4C1270.6 873.1 1273 868.9 1276.1 866.3C1279.3 863.7 1282.8 859 1285.6 857.8C1288.3 856.6 1289.9 857.6 1292.7 859.2C1295.4 860.8 1297.8 865.5 1302.1 867.2C1306.5 869 1312.8 869.1 1318.7 869.6C1324.6 870.1 1331.3 870.5 1337.6 870.1C1343.9 869.7 1351.4 866.7 1356.5 867.2C1361.6 867.8 1364.8 872 1368.3 873.4C1371.9 874.8 1373.9 876 1377.8 875.7C1381.7 875.5 1387.7 873.7 1392 872C1396.3 870.2 1399.9 867.7 1403.8 865.3C1407.8 863 1412.1 860.4 1415.6 857.8C1419.2 855.2 1422.3 851.5 1425.1 849.7C1427.8 848 1429.4 847 1432.2 847.4C1434.9 847.8 1437.7 850.4 1441.6 852.1C1445.6 853.8 1451.1 856 1455.8 857.8C1460.6 859.5 1465.3 861.5 1470 862.5C1474.7 863.5 1479.5 864.1 1484.2 863.9C1488.9 863.8 1493.7 862.9 1498.4 861.6C1503.1 860.2 1508.6 857.9 1512.6 855.9C1516.5 853.9 1519 851.3 1522 849.7C1525.1 848.2 1529.5 847.1 1531 846.6"/>
<path stroke="#BE854E" d="M207.3 558.9C207.7 557.5 208.5 553.9 210 550.4C211.5 546.9 214.5 542.1 216.3 537.9C218.1 533.7 219.1 529.6 220.7 525.4C222.2 521.2 224.2 517 225.8 512.9C227.4 508.7 228.5 504.5 230.3 500.3C232.1 496.2 234.3 492 236.3 487.8C238.4 483.7 240.7 479.5 242.6 475.3C244.4 471.1 246.2 467 247.6 462.8C248.9 458.6 249.8 454.5 250.7 450.3C251.6 446.1 252.3 441.9 253.1 437.8C253.9 433.6 254.7 429.4 255.6 425.2C256.4 421.1 257.3 416.6 258.2 412.7C259.2 408.9 260.1 404.9 261.3 402.1C262.6 399.3 264.1 395.8 265.7 395.8C267.4 395.8 269.6 399.1 271.4 402.1C273.1 405.1 274.7 411.2 276.4 414C278 416.8 279.9 419.2 281.4 419C282.8 418.8 284.1 415.9 285.1 412.7C286.1 409.6 286.1 406.5 287.3 400.2C288.4 393.9 290.4 383.5 292.1 375.2C293.9 366.8 295.8 358.5 297.6 350.1C299.4 341.8 301.3 333.4 302.9 325.1C304.5 316.8 305.8 308 307 300.1C308.2 292.1 309.2 283 310.2 277.5C311.1 272.1 311.7 267.5 312.7 267.5C313.6 267.5 314.7 272.1 315.8 277.5C316.8 283 318.1 292.1 318.9 300.1C319.8 308 320.3 316.8 320.9 325.1C321.6 333.4 322.3 341.8 322.9 350.1C323.6 358.5 324.2 366.8 324.8 375.2C325.4 383.5 325.9 391.9 326.4 400.2C327 408.6 327.5 416.9 328.1 425.2C328.6 433.6 329.1 441.9 329.9 450.3C330.8 458.6 331.7 469.1 332.9 475.3C334.2 481.6 335.8 483.7 337.3 487.8C338.8 492 340.3 494.1 342.1 500.3C343.8 506.6 346.2 519.1 347.7 525.4C349.2 531.6 350.2 533.8 351.1 537.9C352 542 351.6 547.9 353.3 549.8C355.1 551.7 358.7 549.7 361.5 549.2C364.3 548.6 367.3 547.3 370.2 546.7C373.2 546.1 375.7 546.5 379.2 545.5C382.6 544.6 387 543.6 391 540.8C394.9 538.1 398.5 531.4 402.8 529C407.1 526.6 413 529.8 417 526.6C420.9 523.5 423.7 515.6 426.4 510.1C429.2 504.6 430.4 496.7 433.5 493.5C436.7 490.4 441 491.6 445.4 491.2C449.7 490.8 455.6 489.6 459.5 491.2C463.5 492.7 465.1 497.1 469 500.6C472.9 504.2 479.2 508.9 483.2 512.4C487.1 516 489.9 521.5 492.6 521.9C495.4 522.3 496.6 519.1 499.7 514.8C502.9 510.5 508 501.4 511.6 495.9C515.1 490.4 518.3 488 521 481.7C523.8 475.4 526 463.2 528.1 458.1C530.2 452.9 531.4 450.2 533.8 451C536.1 451.8 538.9 458.5 542.3 462.8C545.7 467.1 550.6 470.7 554.1 477C557.7 483.3 561.2 493.5 563.6 500.6C565.9 507.7 566.6 516 568.3 519.5C570 523.1 571.8 525.1 574 521.9C576.1 518.8 578.8 516 581.2 500.6C583.6 485.3 586.3 449.4 588.4 429.7C590.4 410 592 392.3 593.3 382.4C594.7 372.6 595.3 369 596.7 370.6C598.1 372.2 599.9 377.3 601.7 391.9C603.4 406.4 604.9 441.5 607.1 458.1C609.3 474.6 611.9 484.2 614.9 491.2C617.9 498.1 622.2 496.9 625 499.7C627.9 502.4 629.4 503.6 632.1 507.7C634.9 511.8 637.7 520.7 641.6 524.3C645.5 527.8 651.5 526.2 655.8 529C660.1 531.8 664.1 535.7 667.6 540.8C671.2 545.9 674.3 555.6 677.1 559.7C679.8 563.8 680.2 565 684.2 565.4C688.1 565.8 696.4 564.6 700.7 562.1C705 559.6 707.4 555 710.2 550.3C712.9 545.5 715.1 537.3 717.3 533.7C719.5 530.2 720.3 528.2 723.4 529C726.6 529.8 732.1 539.2 736.2 538.5C740.3 537.7 744.5 527.3 748 524.3C751.5 521.3 753.9 520.9 757.5 520.5C761 520.1 764.5 523.6 769.3 521.9C774 520.2 780.7 510.3 785.8 510.1C791 509.8 794.5 518.3 800 520.5C805.5 522.7 813.4 519.5 818.9 523.3C824.4 527.1 828.4 537.9 833.1 543.2C837.8 548.5 843.4 551.9 847.3 555C851.2 558.2 854 561.7 856.8 562.1C859.5 562.5 861.7 559.3 863.9 557.4C866 555.4 867.7 551.1 869.5 550.3C871.2 549.5 872.2 550.3 874.2 552.6C876.2 555 878.1 562.7 881.3 564.5C884.4 566.2 888.8 564.4 893.1 563C897.4 561.7 903.3 558.3 907.3 556.4C911.2 554.5 912 553.3 916.7 551.7C921.5 550.1 929.4 548 935.7 547C942 545.9 949.7 546.3 954.6 545.5C959.5 544.8 961.4 541.7 965 542.2C968.5 542.8 972.7 548.7 975.9 548.9C979 549 980.7 548.9 983.9 543.2C987 537.5 991.4 523.3 994.8 514.8C998.2 506.3 1001.5 496.6 1004.2 492.1C1007 487.6 1009 487.2 1011.3 487.9C1013.7 488.5 1016.1 489.8 1018.4 495.9C1020.8 502 1023.1 516.8 1025.5 524.3C1027.9 531.8 1029.4 536.9 1032.6 540.8C1035.8 544.8 1040.1 546.2 1044.4 547.9C1048.8 549.6 1052.3 550.6 1058.6 551.2C1064.9 551.9 1075.6 552.1 1082.3 551.7C1089 551.3 1093.3 548.5 1098.8 548.9C1104.3 549.2 1109.8 551.2 1115.4 553.6C1120.9 556 1126.4 562 1131.9 563C1137.4 564.1 1143.3 559.7 1148.5 559.7C1153.6 559.7 1157.5 562.8 1162.6 563C1167.8 563.3 1174.5 560.4 1179.2 561.2C1183.9 561.9 1186.7 568 1191 567.8C1195.4 567.5 1200.5 562.3 1205.2 559.7C1209.9 557.2 1214.7 552.9 1219.4 552.6C1224.1 552.4 1228.1 555.8 1233.6 558.3C1239.1 560.8 1246.2 566 1252.5 567.8C1258.8 569.6 1265.5 570.1 1271.4 569.2C1277.3 568.2 1283.2 562.3 1288 562.1C1292.7 561.9 1294.7 567.4 1299.8 567.8C1304.9 568.2 1313.2 565.4 1318.7 564.5C1324.2 563.5 1328.2 562.7 1332.9 562.1C1337.6 561.5 1342.3 560.2 1347.1 561.2C1351.8 562.1 1356.5 565.8 1361.3 567.8C1366 569.7 1369.9 572.3 1375.4 573C1381 573.6 1388 573 1394.4 571.6C1400.7 570.1 1408.1 567.6 1413.3 564.5C1418.4 561.3 1421.8 555.2 1425.1 552.6C1428.4 550 1430 548.5 1433.1 548.9C1436.3 549.3 1439.4 552.8 1444 555C1448.6 557.2 1454.6 560.1 1460.6 562.1C1466.5 564.1 1473.6 565.9 1479.5 566.8C1485.4 567.8 1490.5 569 1496 567.8C1501.5 566.6 1506.7 562 1512.6 559.7C1518.4 557.5 1527.9 555.1 1531 554.2"/>
</g>
<g fill="#F8CBAD" fill-opacity="0.4">
<rect x="280" y="267" width="75" height="3669"/>
<rect x="416" y="265" width="64" height="3670"/>
<rect x="514" y="270" width="47" height="3669"/>
<rect x="580" y="270" width="58" height="3669"/>
<rect x="963" y="263" width="96" height="3669"/>
<rect x="1390" y="260" width="96" height="3670"/>
</g>
<text class="pk" font-size="79.4" transform="translate(335 237.5) rotate(-90) scale(0.936 1)">1593</text>
<text class="pk" font-size="79.4" transform="translate(453.7 242) rotate(-90) scale(0.936 1)">1456</text>
<text class="pk" font-size="79.4" transform="translate(547.8 242.9) rotate(-90) scale(0.936 1)">1370</text>
<text class="pk" font-size="79.4" transform="translate(650 238.2) rotate(-90) scale(0.936 1)">1291</text>
<text class="pk" font-size="79.4" transform="translate(1038.6 225.9) rotate(-90) scale(0.936 1)">853</text>
<text class="pk" font-size="79.4" transform="translate(1473 231.3) rotate(-90) scale(0.936 1)">406</text>
<text font-size="108" text-anchor="middle" transform="translate(401 4087.3) scale(0.99 1.04)">1500</text>
<text font-size="108" text-anchor="middle" transform="translate(875.5 4087.3) scale(0.99 1.04)">1000</text>
<text font-size="108" text-anchor="middle" transform="translate(1343.6 4087.3) scale(0.99 1.04)">500</text>
<text font-size="108" transform="translate(398.2 4226.5) scale(1 1.03)">Raman Shift (cm<tspan font-size="74" dx="34" dy="-31.5">-1</tspan><tspan dx="2.5" dy="31.5">)</tspan></text>
<text font-size="108" transform="translate(117.8 2287) rotate(-90) scale(0.995 1.03)">Intensity</text>
<path fill="#000" fill-rule="evenodd" d="M1560 256H2321V3950H1560ZM1569 265V3940H2312V265Z"/>
<rect x="1606" y="522" width="213" height="15" fill="#BE854E"/>
<text font-size="91" transform="translate(1835 559.3) scale(1.003 1.025)">Sample 12</text>
<rect x="1606" y="807" width="213" height="15" fill="#8B521A"/>
<text font-size="91" transform="translate(1835 844.3) scale(1.003 1.025)">Sample 11</text>
<rect x="1606" y="1128.5" width="213" height="15" fill="#FF9933"/>
<text font-size="91" transform="translate(1835 1165.8) scale(1.003 1.025)">Sample 10</text>
<rect x="1606" y="1433" width="213" height="15" fill="#FFCC00"/>
<text font-size="91" transform="translate(1835 1470.3) scale(1.003 1.025)">Sample 9</text>
<rect x="1606" y="1736" width="213" height="15" fill="#666600"/>
<text font-size="91" transform="translate(1835 1773.3) scale(1.003 1.025)">Sample 8</text>
<rect x="1606" y="2057.5" width="213" height="15" fill="#999900"/>
<text font-size="91" transform="translate(1835 2094.8) scale(1.003 1.025)">Sample 7</text>
<rect x="1606" y="2345.5" width="213" height="15" fill="#008000"/>
<text font-size="91" transform="translate(1835 2382.8) scale(1.003 1.025)">Sample 6</text>
<rect x="1606" y="2654.5" width="213" height="15" fill="#286446"/>
<text font-size="91" transform="translate(1835 2691.8) scale(1.003 1.025)">Sample 5</text>
<rect x="1606" y="2965.5" width="213" height="15" fill="#009999"/>
<text font-size="91" transform="translate(1835 3002.8) scale(1.003 1.025)">Sample 4</text>
<rect x="1606" y="3273.5" width="213" height="15" fill="#00CCCC"/>
<text font-size="91" transform="translate(1835 3310.8) scale(1.003 1.025)">Sample 3</text>
<rect x="1606" y="3570" width="213" height="15" fill="#00FAFA"/>
<text font-size="91" transform="translate(1835 3607.3) scale(1.003 1.025)">Sample 2</text>
<rect x="1606" y="3872" width="213" height="15" fill="#2ECBFA"/>
<text font-size="91" transform="translate(1835 3909.3) scale(1.003 1.025)">Sample 1</text>
</svg></body></html>
